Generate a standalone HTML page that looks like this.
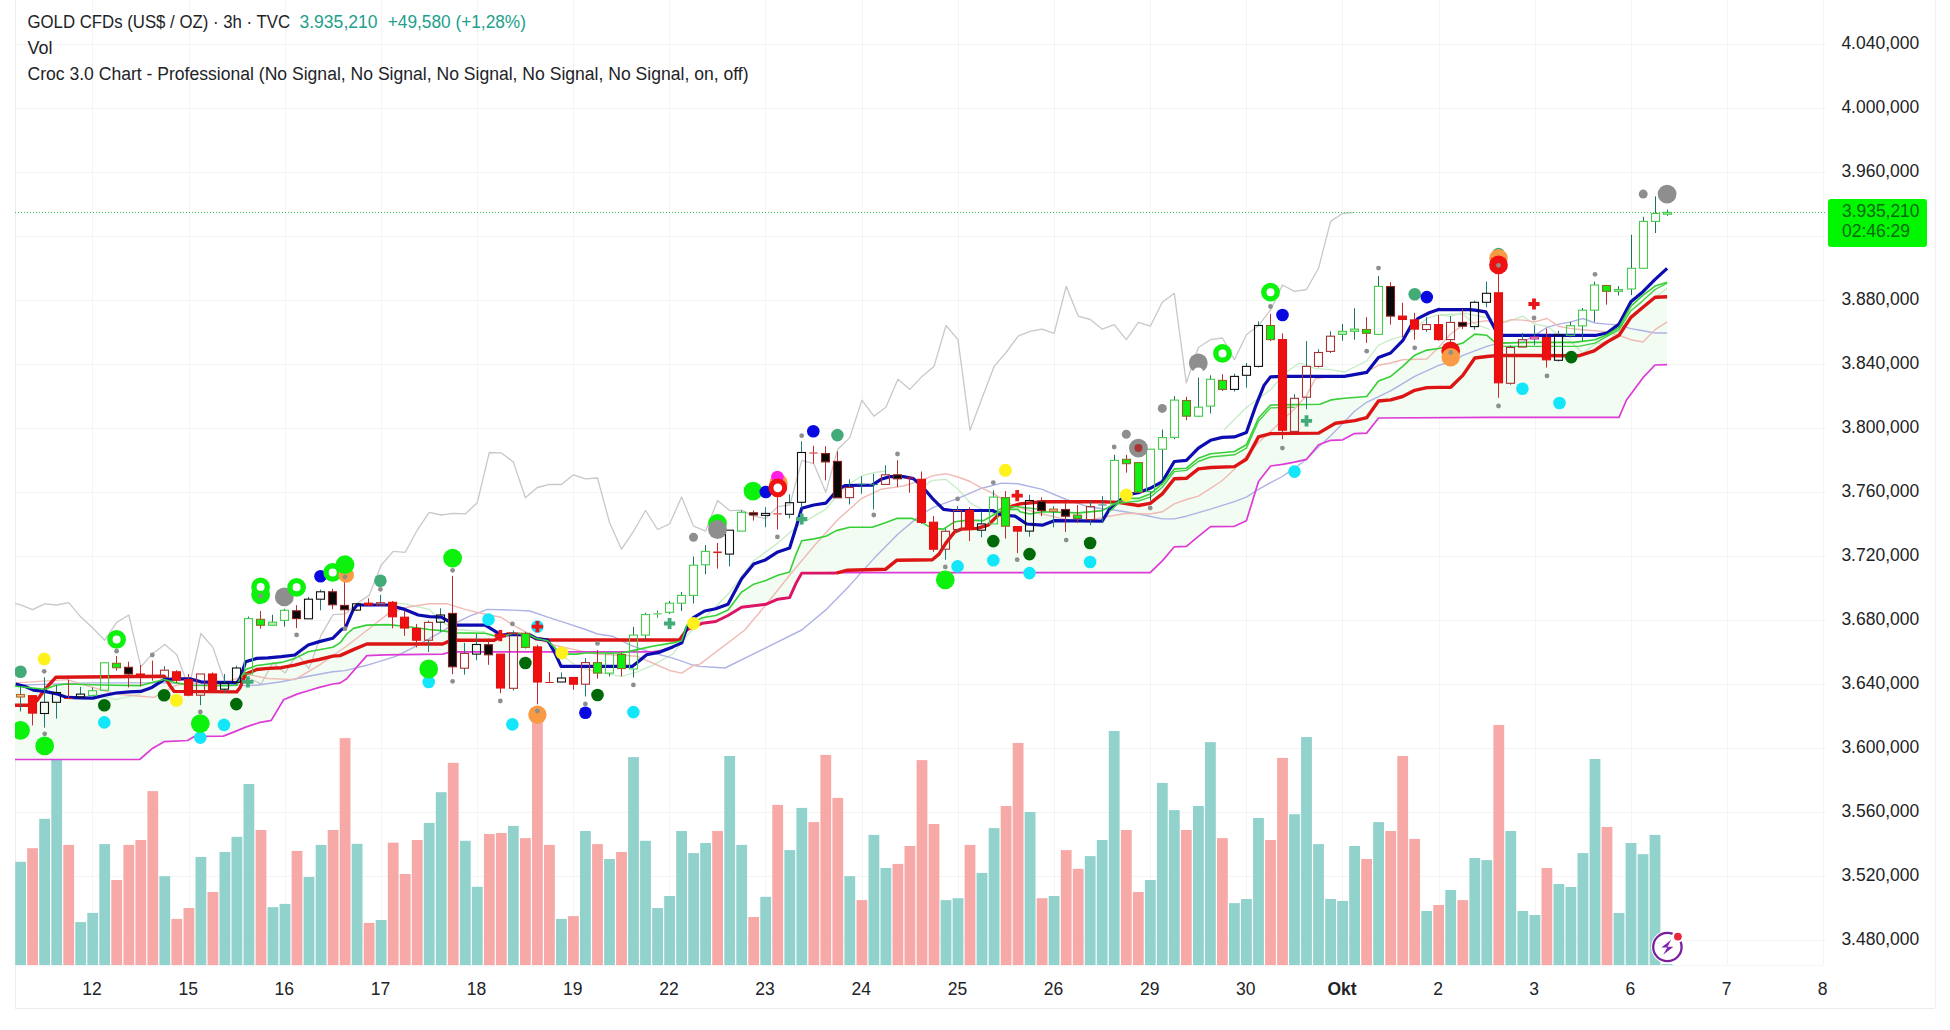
<!DOCTYPE html>
<html><head><meta charset="utf-8"><title>GOLD CFDs</title>
<style>html,body{margin:0;padding:0;background:#fff}body{width:1950px;height:1030px;overflow:hidden}</style></head>
<body>
<svg width="1950" height="1030" viewBox="0 0 1950 1030" style="display:block">
<rect width="1950" height="1030" fill="#fff"/>
<g stroke="#f4f4f5" stroke-width="1" shape-rendering="crispEdges">
<line x1="15" y1="44.5" x2="1826" y2="44.5"/>
<line x1="15" y1="108.5" x2="1826" y2="108.5"/>
<line x1="15" y1="172.5" x2="1826" y2="172.5"/>
<line x1="15" y1="236.5" x2="1826" y2="236.5"/>
<line x1="15" y1="300.5" x2="1826" y2="300.5"/>
<line x1="15" y1="364.5" x2="1826" y2="364.5"/>
<line x1="15" y1="428.5" x2="1826" y2="428.5"/>
<line x1="15" y1="492.5" x2="1826" y2="492.5"/>
<line x1="15" y1="556.5" x2="1826" y2="556.5"/>
<line x1="15" y1="620.5" x2="1826" y2="620.5"/>
<line x1="15" y1="684.5" x2="1826" y2="684.5"/>
<line x1="15" y1="748.5" x2="1826" y2="748.5"/>
<line x1="15" y1="812.5" x2="1826" y2="812.5"/>
<line x1="15" y1="876.5" x2="1826" y2="876.5"/>
<line x1="15" y1="940.5" x2="1826" y2="940.5"/>
<line x1="92.5" y1="0" x2="92.5" y2="965"/>
<line x1="189.5" y1="0" x2="189.5" y2="965"/>
<line x1="285.5" y1="0" x2="285.5" y2="965"/>
<line x1="381.5" y1="0" x2="381.5" y2="965"/>
<line x1="477.5" y1="0" x2="477.5" y2="965"/>
<line x1="573.5" y1="0" x2="573.5" y2="965"/>
<line x1="669.5" y1="0" x2="669.5" y2="965"/>
<line x1="765.5" y1="0" x2="765.5" y2="965"/>
<line x1="862.5" y1="0" x2="862.5" y2="965"/>
<line x1="958.5" y1="0" x2="958.5" y2="965"/>
<line x1="1054.5" y1="0" x2="1054.5" y2="965"/>
<line x1="1150.5" y1="0" x2="1150.5" y2="965"/>
<line x1="1246.5" y1="0" x2="1246.5" y2="965"/>
<line x1="1342.5" y1="0" x2="1342.5" y2="965"/>
<line x1="1439.5" y1="0" x2="1439.5" y2="965"/>
<line x1="1535.5" y1="0" x2="1535.5" y2="965"/>
<line x1="1631.5" y1="0" x2="1631.5" y2="965"/>
<line x1="1727.5" y1="0" x2="1727.5" y2="965"/>
<line x1="1823.5" y1="0" x2="1823.5" y2="965"/>
</g>
<g stroke="#ececee" stroke-width="1" shape-rendering="crispEdges">
<line x1="15.5" y1="0" x2="15.5" y2="1008"/>
<line x1="15" y1="1008.5" x2="1935" y2="1008.5"/>
<line x1="15" y1="965.5" x2="1826" y2="965.5" stroke="#f6f6f7"/>
<line x1="1935.5" y1="0" x2="1935.5" y2="1008" stroke="#f1f1f2"/>
</g>
<defs><clipPath id="pane"><rect x="15" y="0" width="1811" height="965.2"/></clipPath></defs>
<g clip-path="url(#pane)">
<g>
<rect x="15.2" y="861.8" width="10.8" height="103.4" fill="#92d2cc"/>
<rect x="27.2" y="848.2" width="10.8" height="117.0" fill="#f7a9a7"/>
<rect x="39.2" y="818.8" width="10.8" height="146.4" fill="#92d2cc"/>
<rect x="51.3" y="757.1" width="10.8" height="208.1" fill="#92d2cc"/>
<rect x="63.3" y="844.9" width="10.8" height="120.3" fill="#f7a9a7"/>
<rect x="75.3" y="922.1" width="10.8" height="43.1" fill="#92d2cc"/>
<rect x="87.3" y="912.9" width="10.8" height="52.3" fill="#92d2cc"/>
<rect x="99.3" y="844.1" width="10.8" height="121.1" fill="#92d2cc"/>
<rect x="111.3" y="880.0" width="10.8" height="85.2" fill="#f7a9a7"/>
<rect x="123.4" y="844.9" width="10.8" height="120.3" fill="#f7a9a7"/>
<rect x="135.4" y="840.0" width="10.8" height="125.2" fill="#f7a9a7"/>
<rect x="147.4" y="791.1" width="10.8" height="174.1" fill="#f7a9a7"/>
<rect x="159.4" y="876.2" width="10.8" height="89.0" fill="#92d2cc"/>
<rect x="171.4" y="918.9" width="10.8" height="46.3" fill="#f7a9a7"/>
<rect x="183.5" y="908.0" width="10.8" height="57.2" fill="#f7a9a7"/>
<rect x="195.5" y="856.9" width="10.8" height="108.3" fill="#92d2cc"/>
<rect x="207.5" y="892.0" width="10.8" height="73.2" fill="#f7a9a7"/>
<rect x="219.5" y="852.0" width="10.8" height="113.2" fill="#92d2cc"/>
<rect x="231.5" y="836.8" width="10.8" height="128.4" fill="#92d2cc"/>
<rect x="243.5" y="784.0" width="10.8" height="181.2" fill="#92d2cc"/>
<rect x="255.6" y="830.0" width="10.8" height="135.2" fill="#f7a9a7"/>
<rect x="267.6" y="907.2" width="10.8" height="58.0" fill="#92d2cc"/>
<rect x="279.6" y="903.9" width="10.8" height="61.3" fill="#92d2cc"/>
<rect x="291.6" y="850.9" width="10.8" height="114.3" fill="#f7a9a7"/>
<rect x="303.6" y="877.0" width="10.8" height="88.2" fill="#92d2cc"/>
<rect x="315.7" y="844.9" width="10.8" height="120.3" fill="#92d2cc"/>
<rect x="327.7" y="830.0" width="10.8" height="135.2" fill="#f7a9a7"/>
<rect x="339.7" y="738.1" width="10.8" height="227.1" fill="#f7a9a7"/>
<rect x="351.7" y="843.8" width="10.8" height="121.4" fill="#92d2cc"/>
<rect x="363.7" y="922.9" width="10.8" height="42.3" fill="#f7a9a7"/>
<rect x="375.7" y="920.0" width="10.8" height="45.2" fill="#92d2cc"/>
<rect x="387.8" y="842.7" width="10.8" height="122.5" fill="#f7a9a7"/>
<rect x="399.8" y="874.0" width="10.8" height="91.2" fill="#f7a9a7"/>
<rect x="411.8" y="840.0" width="10.8" height="125.2" fill="#f7a9a7"/>
<rect x="423.8" y="822.9" width="10.8" height="142.3" fill="#92d2cc"/>
<rect x="435.8" y="792.2" width="10.8" height="173.0" fill="#92d2cc"/>
<rect x="447.8" y="762.8" width="10.8" height="202.4" fill="#f7a9a7"/>
<rect x="459.9" y="840.8" width="10.8" height="124.4" fill="#92d2cc"/>
<rect x="471.9" y="886.8" width="10.8" height="78.4" fill="#92d2cc"/>
<rect x="483.9" y="834.0" width="10.8" height="131.2" fill="#f7a9a7"/>
<rect x="495.9" y="833.0" width="10.8" height="132.2" fill="#f7a9a7"/>
<rect x="507.9" y="825.9" width="10.8" height="139.3" fill="#92d2cc"/>
<rect x="520.0" y="838.1" width="10.8" height="127.1" fill="#f7a9a7"/>
<rect x="532.0" y="718.0" width="10.8" height="247.2" fill="#f7a9a7"/>
<rect x="544.0" y="844.9" width="10.8" height="120.3" fill="#f7a9a7"/>
<rect x="556.0" y="918.9" width="10.8" height="46.3" fill="#92d2cc"/>
<rect x="568.0" y="916.1" width="10.8" height="49.1" fill="#f7a9a7"/>
<rect x="580.0" y="831.0" width="10.8" height="134.2" fill="#92d2cc"/>
<rect x="592.1" y="844.1" width="10.8" height="121.1" fill="#f7a9a7"/>
<rect x="604.1" y="859.0" width="10.8" height="106.2" fill="#92d2cc"/>
<rect x="616.1" y="852.0" width="10.8" height="113.2" fill="#f7a9a7"/>
<rect x="628.1" y="757.1" width="10.8" height="208.1" fill="#92d2cc"/>
<rect x="640.1" y="840.8" width="10.8" height="124.4" fill="#92d2cc"/>
<rect x="652.2" y="908.0" width="10.8" height="57.2" fill="#92d2cc"/>
<rect x="664.2" y="896.0" width="10.8" height="69.2" fill="#92d2cc"/>
<rect x="676.2" y="831.0" width="10.8" height="134.2" fill="#92d2cc"/>
<rect x="688.2" y="853.1" width="10.8" height="112.1" fill="#92d2cc"/>
<rect x="700.2" y="843.0" width="10.8" height="122.2" fill="#92d2cc"/>
<rect x="712.2" y="831.0" width="10.8" height="134.2" fill="#f7a9a7"/>
<rect x="724.3" y="756.0" width="10.8" height="209.2" fill="#92d2cc"/>
<rect x="736.3" y="844.9" width="10.8" height="120.3" fill="#92d2cc"/>
<rect x="748.3" y="917.0" width="10.8" height="48.2" fill="#f7a9a7"/>
<rect x="760.3" y="896.8" width="10.8" height="68.4" fill="#92d2cc"/>
<rect x="772.3" y="804.9" width="10.8" height="160.3" fill="#f7a9a7"/>
<rect x="784.4" y="850.1" width="10.8" height="115.1" fill="#92d2cc"/>
<rect x="796.4" y="807.9" width="10.8" height="157.3" fill="#92d2cc"/>
<rect x="808.4" y="822.1" width="10.8" height="143.1" fill="#f7a9a7"/>
<rect x="820.4" y="754.9" width="10.8" height="210.3" fill="#f7a9a7"/>
<rect x="832.4" y="797.9" width="10.8" height="167.3" fill="#f7a9a7"/>
<rect x="844.4" y="876.2" width="10.8" height="89.0" fill="#92d2cc"/>
<rect x="856.5" y="900.1" width="10.8" height="65.1" fill="#f7a9a7"/>
<rect x="868.5" y="834.9" width="10.8" height="130.3" fill="#92d2cc"/>
<rect x="880.5" y="868.0" width="10.8" height="97.2" fill="#92d2cc"/>
<rect x="892.5" y="863.9" width="10.8" height="101.3" fill="#f7a9a7"/>
<rect x="904.5" y="846.0" width="10.8" height="119.2" fill="#f7a9a7"/>
<rect x="916.6" y="760.1" width="10.8" height="205.1" fill="#f7a9a7"/>
<rect x="928.6" y="824.0" width="10.8" height="141.2" fill="#f7a9a7"/>
<rect x="940.6" y="900.1" width="10.8" height="65.1" fill="#92d2cc"/>
<rect x="952.6" y="898.2" width="10.8" height="67.0" fill="#92d2cc"/>
<rect x="964.6" y="844.9" width="10.8" height="120.3" fill="#f7a9a7"/>
<rect x="976.6" y="872.9" width="10.8" height="92.3" fill="#92d2cc"/>
<rect x="988.7" y="828.1" width="10.8" height="137.1" fill="#92d2cc"/>
<rect x="1000.7" y="806.0" width="10.8" height="159.2" fill="#f7a9a7"/>
<rect x="1012.7" y="743.0" width="10.8" height="222.2" fill="#f7a9a7"/>
<rect x="1024.7" y="812.0" width="10.8" height="153.2" fill="#92d2cc"/>
<rect x="1036.7" y="898.2" width="10.8" height="67.0" fill="#f7a9a7"/>
<rect x="1048.7" y="896.0" width="10.8" height="69.2" fill="#92d2cc"/>
<rect x="1060.8" y="850.1" width="10.8" height="115.1" fill="#f7a9a7"/>
<rect x="1072.8" y="868.8" width="10.8" height="96.4" fill="#f7a9a7"/>
<rect x="1084.8" y="856.1" width="10.8" height="109.1" fill="#92d2cc"/>
<rect x="1096.8" y="840.0" width="10.8" height="125.2" fill="#92d2cc"/>
<rect x="1108.8" y="731.0" width="10.8" height="234.2" fill="#92d2cc"/>
<rect x="1120.9" y="830.0" width="10.8" height="135.2" fill="#f7a9a7"/>
<rect x="1132.9" y="892.0" width="10.8" height="73.2" fill="#f7a9a7"/>
<rect x="1144.9" y="880.0" width="10.8" height="85.2" fill="#92d2cc"/>
<rect x="1156.9" y="782.9" width="10.8" height="182.3" fill="#92d2cc"/>
<rect x="1168.9" y="810.1" width="10.8" height="155.1" fill="#92d2cc"/>
<rect x="1180.9" y="830.0" width="10.8" height="135.2" fill="#f7a9a7"/>
<rect x="1193.0" y="806.0" width="10.8" height="159.2" fill="#92d2cc"/>
<rect x="1205.0" y="742.1" width="10.8" height="223.1" fill="#92d2cc"/>
<rect x="1217.0" y="838.1" width="10.8" height="127.1" fill="#f7a9a7"/>
<rect x="1229.0" y="903.1" width="10.8" height="62.1" fill="#92d2cc"/>
<rect x="1241.0" y="899.0" width="10.8" height="66.2" fill="#92d2cc"/>
<rect x="1253.1" y="818.0" width="10.8" height="147.2" fill="#92d2cc"/>
<rect x="1265.1" y="840.0" width="10.8" height="125.2" fill="#f7a9a7"/>
<rect x="1277.1" y="757.9" width="10.8" height="207.3" fill="#f7a9a7"/>
<rect x="1289.1" y="814.2" width="10.8" height="151.0" fill="#92d2cc"/>
<rect x="1301.1" y="737.0" width="10.8" height="228.2" fill="#92d2cc"/>
<rect x="1313.1" y="844.1" width="10.8" height="121.1" fill="#92d2cc"/>
<rect x="1325.2" y="899.0" width="10.8" height="66.2" fill="#92d2cc"/>
<rect x="1337.2" y="900.9" width="10.8" height="64.3" fill="#92d2cc"/>
<rect x="1349.2" y="846.0" width="10.8" height="119.2" fill="#92d2cc"/>
<rect x="1361.2" y="859.0" width="10.8" height="106.2" fill="#f7a9a7"/>
<rect x="1373.2" y="822.1" width="10.8" height="143.1" fill="#92d2cc"/>
<rect x="1385.3" y="831.0" width="10.8" height="134.2" fill="#f7a9a7"/>
<rect x="1397.3" y="756.0" width="10.8" height="209.2" fill="#f7a9a7"/>
<rect x="1409.3" y="838.9" width="10.8" height="126.3" fill="#f7a9a7"/>
<rect x="1421.3" y="911.0" width="10.8" height="54.2" fill="#92d2cc"/>
<rect x="1433.3" y="905.0" width="10.8" height="60.2" fill="#f7a9a7"/>
<rect x="1445.3" y="890.0" width="10.8" height="75.2" fill="#92d2cc"/>
<rect x="1457.4" y="900.1" width="10.8" height="65.1" fill="#f7a9a7"/>
<rect x="1469.4" y="858.0" width="10.8" height="107.2" fill="#92d2cc"/>
<rect x="1481.4" y="860.1" width="10.8" height="105.1" fill="#92d2cc"/>
<rect x="1493.4" y="725.0" width="10.8" height="240.2" fill="#f7a9a7"/>
<rect x="1505.4" y="831.0" width="10.8" height="134.2" fill="#92d2cc"/>
<rect x="1517.4" y="911.0" width="10.8" height="54.2" fill="#92d2cc"/>
<rect x="1529.5" y="915.0" width="10.8" height="50.2" fill="#92d2cc"/>
<rect x="1541.5" y="868.0" width="10.8" height="97.2" fill="#f7a9a7"/>
<rect x="1553.5" y="884.0" width="10.8" height="81.2" fill="#92d2cc"/>
<rect x="1565.5" y="887.0" width="10.8" height="78.2" fill="#92d2cc"/>
<rect x="1577.5" y="853.1" width="10.8" height="112.1" fill="#92d2cc"/>
<rect x="1589.6" y="759.0" width="10.8" height="206.2" fill="#92d2cc"/>
<rect x="1601.6" y="827.0" width="10.8" height="138.2" fill="#f7a9a7"/>
<rect x="1613.6" y="912.9" width="10.8" height="52.3" fill="#92d2cc"/>
<rect x="1625.6" y="843.0" width="10.8" height="122.2" fill="#92d2cc"/>
<rect x="1637.6" y="854.2" width="10.8" height="111.0" fill="#92d2cc"/>
<rect x="1649.6" y="834.9" width="10.8" height="130.3" fill="#92d2cc"/>
<rect x="1661.7" y="964.0" width="10.8" height="1.2" fill="#92d2cc"/>
</g>
<path d="M15.0 684.0 L15.6 686.3 L44.7 689.2 L55.8 685.2 L67.0 684.0 L92.7 684.7 L116.1 685.2 L140.7 685.6 L164.1 679.6 L176.4 682.9 L189.8 685.2 L223.3 685.6 L236.7 685.2 L245.6 669.5 L256.8 665.5 L281.4 662.4 L294.8 658.4 L308.2 651.7 L332.7 647.2 L340.0 642.9 L346.7 634.0 L353.4 628.4 L366.8 625.1 L388.0 624.6 L404.8 626.2 L429.3 629.5 L441.2 630.6 L456.1 632.9 L485.2 633.3 L496.3 636.2 L505.3 635.8 L512.0 633.5 L518.7 633.5 L529.8 635.1 L536.5 638.5 L547.7 640.7 L554.4 647.4 L561.1 654.1 L576.7 654.1 L585.6 653.0 L621.6 653.0 L637.0 649.6 L652.6 646.3 L672.7 642.9 L681.7 640.7 L686.7 625.5 L702.3 617.7 L715.7 615.5 L728.0 609.9 L741.6 592.1 L753.7 584.2 L765.8 580.4 L777.8 575.3 L789.6 572.0 L796.1 554.1 L801.7 540.7 L813.8 538.9 L825.8 536.2 L836.3 530.6 L849.7 527.3 L872.1 527.3 L885.4 522.8 L896.6 518.4 L912.2 518.4 L921.8 522.4 L932.3 528.4 L943.5 529.1 L954.7 521.7 L968.1 520.1 L983.7 520.6 L997.1 512.8 L1006.0 509.4 L1018.1 509.4 L1020.0 511.8 L1030.0 514.0 L1042.3 511.8 L1078.3 512.9 L1102.2 510.6 L1118.3 501.7 L1126.3 498.4 L1138.4 498.4 L1150.2 493.9 L1162.3 483.8 L1174.3 468.9 L1186.4 468.2 L1198.4 458.2 L1210.5 453.7 L1234.4 451.5 L1246.4 444.8 L1258.5 418.0 L1270.6 405.0 L1294.5 404.6 L1319.8 404.3 L1331.0 399.9 L1344.4 398.3 L1366.7 396.5 L1378.5 380.9 L1390.6 376.4 L1402.7 366.4 L1414.7 355.2 L1426.8 350.1 L1438.6 348.5 L1450.7 345.2 L1450.7 346.4 L1462.8 343.1 L1474.8 334.1 L1486.9 335.3 L1494.7 342.0 L1500.3 343.1 L1529.3 342.4 L1574.0 342.4 L1595.0 339.7 L1607.0 334.8 L1619.1 327.4 L1630.9 306.2 L1643.0 295.1 L1655.1 286.1 L1667.1 282.3 L1667.0 364.7 L1655.0 365.0 L1643.0 377.7 L1626.5 400.0 L1619.0 417.3 L1490.0 417.3 L1378.6 418.0 L1366.6 433.1 L1354.5 433.6 L1342.7 439.8 L1330.6 440.3 L1318.6 444.8 L1306.5 459.3 L1294.5 462.2 L1282.4 464.4 L1270.6 466.0 L1258.5 481.6 L1246.4 520.7 L1234.4 526.3 L1210.5 526.7 L1198.4 536.3 L1186.4 546.4 L1174.3 546.8 L1162.3 560.9 L1150.2 572.7 L1040.0 572.6 L836.3 572.6 L801.7 573.1 L796.1 583.1 L789.6 597.6 L777.8 599.2 L765.8 604.3 L741.6 607.2 L728.0 615.5 L715.7 621.5 L702.3 623.3 L686.7 630.0 L681.7 643.6 L672.7 646.7 L661.6 650.3 L652.6 651.9 L456.1 651.9 L449.4 652.3 L442.7 654.1 L384.7 654.8 L366.8 655.6 L346.7 678.7 L340.0 683.1 L332.7 684.0 L319.3 687.4 L308.2 690.7 L297.0 694.1 L283.6 699.7 L271.3 720.4 L259.0 722.7 L245.6 727.1 L236.7 730.9 L223.3 736.1 L194.3 736.5 L187.6 740.5 L164.1 741.7 L151.9 748.8 L139.6 759.5 L15.6 759.5 L15.0 759.5Z" fill="#f2fcf2" stroke="none"/>
<path d="M92.7 694.1 L116.1 699.7 L129.5 696.3 L140.7 694.1" fill="none" stroke="#c6ecc6" stroke-width="1.3"/>
<path d="M388.0 602.7 L404.8 603.8 L429.3 609.4 L441.2 621.7 L456.1 629.5 L485.2 631.8" fill="none" stroke="#c6ecc6" stroke-width="1.3"/>
<path d="M563.3 656.3 L576.7 666.4 L597.5 672.0 L621.6 676.4 L637.0 672.0 L652.6 665.3 L672.7 654.1 L688.4 634.0 L728.0 594.3 L753.7 560.8 L777.8 542.9 L796.1 527.3 L813.8 516.1 L825.8 509.4 L836.3 496.0 L849.7 483.7 L861.8 475.9 L873.8 472.6 L885.4 471.0" fill="none" stroke="#c6ecc6" stroke-width="1.3"/>
<path d="M921.8 487.1 L932.3 480.4 L946.0 479.3 L958.0 489.3 L970.1 502.7 L981.9 509.4 L994.0 513.9" fill="none" stroke="#c6ecc6" stroke-width="1.3"/>
<path d="M1223.8 430.0 L1246.1 407.7 L1270.5 389.8 L1286.3 372.0 L1299.7 363.0 L1315.4 368.6 L1331.0 369.7 L1344.4 372.0 L1366.7 360.8 L1378.5 345.2 L1390.6 339.6 L1402.7 336.2 L1414.7 329.5 L1426.8 318.4 L1438.6 315.0 L1462.7 313.9 L1474.8 323.9 L1490.0 329.5" fill="none" stroke="#c6ecc6" stroke-width="1.3"/>
<path d="M1440.0 315.2 L1450.7 316.3 L1462.8 312.9 L1507.0 321.9 L1522.8 316.3 L1534.9 324.1 L1547.0 326.3 L1558.8 335.3 L1570.9 342.0 L1582.9 353.1 L1595.0 344.2 L1607.0 342.0 L1619.1 330.8 L1630.9 317.4 L1643.0 306.2 L1655.1 297.3 L1667.1 288.4" fill="none" stroke="#c6ecc6" stroke-width="1.3"/>
<path d="M15.0 603.3 L20.6 604.8 L32.6 609.7 L44.6 603.8 L56.7 605.0 L68.7 602.7 L80.7 616.8 L92.7 628.0 L104.7 640.2 L116.7 622.4 L128.8 615.0 L140.8 666.8 L152.8 653.4 L164.8 644.5 L176.8 654.8 L188.9 688.0 L200.9 633.5 L212.9 647.4 L224.9 682.0 L236.9 682.5 L248.9 678.0 L261.0 684.2 L273.0 662.6 L285.0 673.1 L297.0 653.6 L309.0 668.6 L321.1 635.1 L333.1 614.6 L345.1 613.9 L357.1 603.2 L369.1 595.4 L381.1 565.2 L393.2 551.4 L405.2 552.3 L417.2 530.2 L429.2 512.3 L441.2 515.0 L453.2 513.4 L465.3 513.9 L477.3 502.7 L489.3 452.5 L501.3 452.9 L513.3 461.9 L525.4 497.8 L537.4 487.5 L549.4 484.3 L561.4 484.5 L573.4 474.8 L585.4 478.8 L597.5 478.0 L609.5 522.4 L621.5 549.2 L633.5 531.3 L645.5 510.5 L657.6 529.5 L669.6 523.9 L681.6 497.1 L693.6 526.2 L705.6 531.1 L717.6 500.5 L729.7 510.6 L741.7 510.2 L753.7 516.2 L765.7 518.5 L777.7 506.6 L789.8 505.0 L801.8 460.4 L813.8 463.7 L825.8 492.3 L837.8 449.2 L849.8 437.6 L861.9 400.1 L873.9 416.2 L885.9 407.2 L897.9 379.3 L909.9 389.4 L922.0 376.4 L934.0 366.4 L946.0 325.5 L958.0 339.6 L970.0 430.2 L982.0 398.3 L994.1 366.4 L1006.1 352.5 L1018.1 336.2 L1030.1 331.3 L1042.1 329.1 L1054.1 333.3 L1066.2 286.4 L1078.2 316.1 L1090.2 319.5 L1102.2 329.1 L1114.2 324.6 L1126.3 339.6 L1138.3 322.4 L1150.3 326.2 L1162.3 302.3 L1174.3 293.3 L1186.3 382.8 L1198.4 347.5 L1210.4 339.7 L1222.4 338.0 L1234.4 359.8 L1246.4 334.8 L1258.5 325.7 L1270.5 310.2 L1282.5 285.0 L1294.5 291.3 L1306.5 289.5 L1318.5 268.3 L1330.6 221.4 L1342.6 213.5 L1354.6 212.4" fill="none" stroke="#c8c8c8" stroke-width="1.3" stroke-linejoin="round"/>
<path d="M15.6 685.2 L89.3 682.9 L164.1 682.9 L245.6 685.6 L256.8 685.2 L281.4 681.8 L308.2 676.2 L332.7 671.8 L345.0 670.6 L366.8 665.3 L395.8 656.3 L413.7 647.4 L441.2 631.8 L456.1 622.8 L469.5 616.1 L487.4 609.4 L513.3 610.1 L529.8 611.0 L547.7 617.2 L565.5 622.8 L585.6 629.5 L597.5 634.0 L612.4 636.2 L630.3 645.2 L652.6 653.0 L670.5 657.4 L683.9 661.9 L693.5 665.3 L700.0 666.4 L725.0 668.0 L801.7 630.0 L825.8 609.9 L849.7 585.4 L873.8 558.6 L898.0 534.0 L921.8 513.9 L933.9 507.2 L958.0 498.3 L981.9 488.2 L1001.6 483.1 L1018.1 483.7 L1020.0 484.3 L1042.3 489.4 L1066.2 499.5 L1090.1 507.3 L1114.2 510.0 L1138.4 514.0 L1162.3 518.9 L1174.3 518.9 L1186.4 516.2 L1210.5 509.1 L1234.4 501.7 L1246.4 497.2 L1258.5 489.4 L1270.6 482.7 L1282.4 476.5 L1294.5 468.2 L1306.5 459.3 L1318.6 447.0 L1330.6 435.8 L1342.7 423.5 L1354.5 411.3 L1366.6 402.3 L1390.6 390.9 L1414.7 376.4 L1438.6 365.3 L1450.7 362.1 L1462.8 355.4 L1474.8 350.9 L1486.9 346.4 L1498.7 343.1 L1522.8 342.0 L1534.9 335.3 L1547.0 327.4 L1558.8 324.1 L1570.9 321.9 L1582.9 318.5 L1595.0 323.0 L1607.0 324.1 L1619.1 325.2 L1630.9 328.6 L1643.0 330.8 L1655.1 333.0 L1667.1 333.0" fill="none" stroke="#aeb2e4" stroke-width="1.4" stroke-linejoin="round"/>
<path d="M15.6 682.9 L67.0 679.6 L92.7 687.4 L116.1 694.1 L140.7 696.3 L154.1 697.4 L164.1 691.9 L176.4 685.2 L189.8 682.9 L223.3 682.9 L236.7 678.5 L245.6 674.0 L268.0 678.5 L294.8 679.6 L319.3 665.1 L345.0 647.2 L362.3 634.0 L388.0 613.9 L407.0 607.2 L429.3 603.8 L447.2 603.8 L465.1 609.4 L478.5 612.8 L500.8 617.2 L513.3 625.1 L525.4 631.8 L537.4 639.6 L554.4 645.2 L574.5 649.6 L596.8 654.1 L621.4 655.2 L637.0 656.3 L652.6 663.0 L670.5 670.8 L681.7 673.1 L693.5 665.3 L700.0 664.1 L744.8 630.0 L765.8 605.0 L789.6 575.3 L813.8 546.3 L837.9 519.5 L861.8 498.3 L881.0 489.3 L903.3 486.0 L921.8 480.4 L932.3 475.9 L946.0 473.7 L958.0 477.0 L970.1 481.5 L981.9 488.2 L994.0 493.8 L1006.0 501.6 L1018.1 507.2 L1020.0 507.7 L1042.3 514.0 L1066.2 519.6 L1087.0 520.7 L1109.3 516.2 L1126.3 513.3 L1150.2 514.0 L1162.3 511.8 L1174.3 503.9 L1186.4 499.5 L1198.4 496.1 L1210.5 488.3 L1222.3 480.5 L1234.4 469.3 L1246.4 455.9 L1258.5 442.5 L1270.6 431.4 L1282.4 420.2 L1294.5 409.0 L1306.5 395.6 L1315.4 378.7 L1331.0 376.4 L1344.4 376.4 L1366.7 372.0 L1378.5 365.3 L1390.6 363.0 L1402.7 359.7 L1426.8 359.0 L1438.6 347.4 L1450.7 334.0 L1462.7 325.1 L1474.8 322.4 L1486.9 320.7 L1498.7 324.1 L1510.8 319.6 L1522.8 320.1 L1534.9 321.9 L1547.0 318.5 L1558.8 326.3 L1570.9 328.6 L1582.9 329.7 L1595.0 330.8 L1607.0 331.9 L1619.1 335.3 L1630.9 339.7 L1643.0 342.0 L1655.1 329.7 L1667.1 321.9" fill="none" stroke="#f0bab5" stroke-width="1.4" stroke-linejoin="round"/>
<path d="M15.0 759.5 L15.6 759.5 L139.6 759.5 L151.9 748.8 L164.1 741.7 L187.6 740.5 L194.3 736.5 L223.3 736.1 L236.7 730.9 L245.6 727.1 L259.0 722.7 L271.3 720.4 L283.6 699.7 L297.0 694.1 L308.2 690.7 L319.3 687.4 L332.7 684.0 L340.0 683.1 L346.7 678.7 L366.8 655.6 L384.7 654.8 L442.7 654.1 L449.4 652.3 L456.1 651.9 L652.6 651.9 L661.6 650.3 L672.7 646.7 L681.7 643.6 L686.7 630.0 L702.3 623.3 L715.7 621.5 L728.0 615.5 L741.6 607.2 L765.8 604.3 L777.8 599.2 L789.6 597.6 L796.1 583.1 L801.7 573.1 L836.3 572.6 L1040.0 572.6 L1150.2 572.7 L1162.3 560.9 L1174.3 546.8 L1186.4 546.4 L1198.4 536.3 L1210.5 526.7 L1234.4 526.3 L1246.4 520.7 L1258.5 481.6 L1270.6 466.0 L1282.4 464.4 L1294.5 462.2 L1306.5 459.3 L1318.6 444.8 L1330.6 440.3 L1342.7 439.8 L1354.5 433.6 L1366.6 433.1 L1378.6 418.0 L1490.0 417.3 L1619.0 417.3 L1626.5 400.0 L1643.0 377.7 L1655.0 365.0 L1667.0 364.7" fill="none" stroke="#dd3ad8" stroke-width="1.7" stroke-linejoin="round"/>
<path d="M15.0 705.3 L15.6 705.3 L29.0 705.3 L36.8 700.8 L44.7 689.6 L55.8 677.3 L164.1 676.2 L169.7 685.2 L174.2 691.4 L236.7 691.9 L240.1 687.4 L245.6 674.0 L256.8 669.5 L268.0 668.4 L281.4 667.7 L294.8 665.1 L308.2 661.7 L319.3 659.5 L332.7 656.1 L340.0 655.6 L353.4 649.6 L366.8 644.0 L442.7 644.0 L449.4 641.1 L456.1 640.2 L494.1 640.2 L500.8 636.7 L507.5 634.0 L514.2 634.0 L529.8 635.1 L536.5 638.9 L547.7 640.0 L679.4 640.0 L686.7 630.0 M836.3 573.1 L847.5 570.2 L885.4 569.3 L896.6 560.3 L932.3 559.7 L939.0 554.1 L946.0 542.9 L954.7 531.8 L961.4 529.1 L977.0 528.4 L988.2 525.1 L997.1 516.1 L1006.0 508.3 L1018.1 504.3 L1020.0 503.9 L1042.3 501.7 L1102.2 501.7 L1118.3 502.4 L1138.4 505.5 L1150.2 503.3 L1162.3 493.9 L1174.3 478.7 L1186.4 478.3 L1198.4 468.9 L1210.5 467.5 L1234.4 466.6 L1246.4 459.3 L1258.5 436.9 L1270.6 433.6 L1318.6 433.1 L1335.4 423.3 L1354.7 420.6 L1366.7 417.7 L1378.5 401.0 L1390.6 399.9 L1402.7 396.5 L1414.7 390.3 L1426.8 387.6 L1450.7 387.1 L1450.7 387.3 L1462.8 375.4 L1474.8 358.0 L1486.9 356.5 L1498.7 355.4 L1578.5 355.8 L1594.1 350.9 L1607.0 342.0 L1619.1 335.3 L1630.9 317.4 L1643.0 307.3 L1655.1 297.3 L1667.1 296.8" fill="none" stroke="#dc1414" stroke-width="3.4" stroke-linejoin="round"/>
<path d="M686.7 630.0 L702.3 623.3 L715.7 621.5 L728.0 615.5 L741.6 607.2 L765.8 604.3 L777.8 599.2 L789.6 597.6 L796.1 583.1 L801.7 573.1 L836.3 573.1" fill="none" stroke="#dc1464" stroke-width="2.9" stroke-linejoin="round"/>
<path d="M15.6 684.0 L24.6 686.3 L33.5 690.1 L44.7 691.4 L55.8 693.6 L67.0 697.4 L80.4 697.9 L92.7 698.1 L105.0 695.2 L116.1 693.0 L129.5 691.9 L140.7 691.4 L151.9 687.4 L164.1 679.6 L176.4 678.9 L189.8 678.9 L201.0 681.8 L214.4 682.3 L225.5 682.3 L236.7 682.9 L240.1 678.5 L245.6 661.7 L256.8 658.4 L268.0 657.9 L281.4 656.6 L294.8 655.0 L308.2 645.0 L319.3 641.6 L332.7 638.3 L341.7 629.3 L345.1 628.4 L353.4 609.4 L357.2 605.0 L388.0 605.0 L404.8 609.4 L418.2 615.0 L429.3 616.6 L441.2 617.2 L449.4 621.7 L456.1 625.1 L485.2 625.1 L494.1 630.6 L500.8 635.1 L512.0 634.4 L529.8 635.1 L536.5 638.5 L547.7 640.2 L554.4 651.9 L561.1 666.4 L632.1 666.4 L638.8 661.2 L646.6 654.8 L660.0 652.1 L672.7 646.9 L681.7 642.9 L686.7 627.8 L693.4 617.7 L704.6 611.0 L715.7 608.8 L728.0 604.3 L741.6 578.7 L753.7 564.1 L765.8 559.7 L777.8 551.9 L789.6 548.1 L796.1 527.3 L801.7 508.3 L813.8 505.0 L825.8 503.2 L834.1 493.8 L837.9 489.3 L845.3 485.5 L872.1 485.1 L881.0 479.3 L889.9 476.6 L903.3 476.6 L913.4 478.6 L921.8 486.0 L932.3 498.3 L943.5 509.4 L952.4 510.5 L992.6 510.5 L1001.6 515.0 L1015.0 516.1 L1021.7 520.6 L1026.7 524.0 L1042.3 525.2 L1054.2 520.7 L1102.2 521.1 L1109.3 509.5 L1118.3 501.7 L1126.3 495.0 L1138.4 492.8 L1150.2 488.3 L1162.3 481.6 L1174.3 461.5 L1186.4 460.4 L1198.4 448.1 L1210.5 440.3 L1222.3 437.4 L1234.4 436.9 L1246.4 432.5 L1255.1 407.7 L1264.0 385.4 L1270.5 376.9 L1282.5 376.4 L1344.4 376.4 L1366.7 372.4 L1378.5 357.4 L1390.6 353.0 L1402.7 340.7 L1411.4 325.1 L1418.1 318.4 L1429.2 312.8 L1438.6 309.4 L1440.0 309.6 L1469.0 309.6 L1474.8 310.2 L1485.8 311.8 L1494.7 328.6 L1500.3 335.3 L1596.3 335.3 L1607.0 333.0 L1619.1 324.1 L1630.9 301.8 L1643.0 291.7 L1655.1 279.4 L1667.1 268.3" fill="none" stroke="#0c0cb0" stroke-width="3.2" stroke-linejoin="round"/>
<path d="M1109.3 511.8 L1118.3 503.3 L1138.4 501.0 L1150.2 497.2 L1162.3 487.2 L1174.3 471.6 L1186.4 470.4 L1198.4 461.5 L1210.5 457.0 L1234.4 454.8 L1246.4 448.1 L1258.5 421.3 L1270.6 407.9 L1294.5 407.2" fill="none" stroke="#44d044" stroke-width="1.4" stroke-linejoin="round"/>
<path d="M1494.7 343.1 L1500.3 346.4 L1529.3 346.4 L1578.5 346.4 L1595.0 343.1 L1607.0 336.4 L1619.1 329.7 L1630.9 310.7 L1643.0 300.6 L1655.1 289.5 L1667.1 283.2" fill="none" stroke="#44d044" stroke-width="1.4" stroke-linejoin="round"/>
<path d="M997.1 510.5 L1006.0 506.7 L1018.1 506.7 L1030.2 508.3 L1040.0 509.4" fill="none" stroke="#44d044" stroke-width="1.4" stroke-linejoin="round"/>
<path d="M15.0 684.0 L15.6 686.3 L44.7 689.2 L55.8 685.2 L67.0 684.0 L92.7 684.7 L116.1 685.2 L140.7 685.6 L164.1 679.6 L176.4 682.9 L189.8 685.2 L223.3 685.6 L236.7 685.2 L245.6 669.5 L256.8 665.5 L281.4 662.4 L294.8 658.4 L308.2 651.7 L332.7 647.2 L340.0 642.9 L346.7 634.0 L353.4 628.4 L366.8 625.1 L388.0 624.6 L404.8 626.2 L429.3 629.5 L441.2 630.6 L456.1 632.9 L485.2 633.3 L496.3 636.2 L505.3 635.8 L512.0 633.5 L518.7 633.5 L529.8 635.1 L536.5 638.5 L547.7 640.7 L554.4 647.4 L561.1 654.1 L576.7 654.1 L585.6 653.0 L621.6 653.0 L637.0 649.6 L652.6 646.3 L672.7 642.9 L681.7 640.7 L686.7 625.5 L702.3 617.7 L715.7 615.5 L728.0 609.9 L741.6 592.1 L753.7 584.2 L765.8 580.4 L777.8 575.3 L789.6 572.0 L796.1 554.1 L801.7 540.7 L813.8 538.9 L825.8 536.2 L836.3 530.6 L849.7 527.3 L872.1 527.3 L885.4 522.8 L896.6 518.4 L912.2 518.4 L921.8 522.4 L932.3 528.4 L943.5 529.1 L954.7 521.7 L968.1 520.1 L983.7 520.6 L997.1 512.8 L1006.0 509.4 L1018.1 509.4 L1020.0 511.8 L1030.0 514.0 L1042.3 511.8 L1078.3 512.9 L1102.2 510.6 L1118.3 501.7 L1126.3 498.4 L1138.4 498.4 L1150.2 493.9 L1162.3 483.8 L1174.3 468.9 L1186.4 468.2 L1198.4 458.2 L1210.5 453.7 L1234.4 451.5 L1246.4 444.8 L1258.5 418.0 L1270.6 405.0 L1294.5 404.6 L1319.8 404.3 L1331.0 399.9 L1344.4 398.3 L1366.7 396.5 L1378.5 380.9 L1390.6 376.4 L1402.7 366.4 L1414.7 355.2 L1426.8 350.1 L1438.6 348.5 L1450.7 345.2 L1450.7 346.4 L1462.8 343.1 L1474.8 334.1 L1486.9 335.3 L1494.7 342.0 L1500.3 343.1 L1529.3 342.4 L1574.0 342.4 L1595.0 339.7 L1607.0 334.8 L1619.1 327.4 L1630.9 306.2 L1643.0 295.1 L1655.1 286.1 L1667.1 282.3" fill="none" stroke="#36cf36" stroke-width="1.6" stroke-linejoin="round"/>
<line x1="15" y1="212.5" x2="1828" y2="212.5" stroke="#3fc845" stroke-width="1" stroke-dasharray="1 2"/>
<g>
<line x1="20.5" y1="686.3" x2="20.5" y2="694.5" stroke="#1c7b78" stroke-width="1"/>
<line x1="20.5" y1="697.0" x2="20.5" y2="711.5" stroke="#1c7b78" stroke-width="1"/>
<rect x="16.5" y="694.5" width="8" height="2.5" fill="#f0c090" stroke="#b36a2a" stroke-width="1.1"/>
<line x1="32.5" y1="713.1" x2="32.5" y2="725.4" stroke="#c82828" stroke-width="1"/>
<rect x="28.5" y="695.7" width="8" height="17.4" fill="#ee1010" stroke="#e01010" stroke-width="1.1"/>
<line x1="44.5" y1="677.3" x2="44.5" y2="702.3" stroke="#1c7b78" stroke-width="1"/>
<line x1="44.5" y1="713.5" x2="44.5" y2="727.6" stroke="#1c7b78" stroke-width="1"/>
<rect x="40.5" y="702.3" width="8" height="11.2" fill="none" stroke="#111" stroke-width="1.1"/>
<line x1="56.5" y1="685.2" x2="56.5" y2="692.5" stroke="#1c7b78" stroke-width="1"/>
<line x1="56.5" y1="702.3" x2="56.5" y2="718.7" stroke="#1c7b78" stroke-width="1"/>
<rect x="52.5" y="692.5" width="8" height="9.8" fill="none" stroke="#111" stroke-width="1.1"/>
<line x1="68.5" y1="679.6" x2="68.5" y2="698.0" stroke="#c82828" stroke-width="1"/>
<rect x="64.3" y="698.0" width="8.4" height="1.0" fill="#d02020"/>
<line x1="80.5" y1="686.9" x2="80.5" y2="694.1" stroke="#1c7b78" stroke-width="1"/>
<rect x="76.5" y="694.1" width="8" height="2.9" fill="none" stroke="#111" stroke-width="1.1"/>
<line x1="92.5" y1="687.4" x2="92.5" y2="690.7" stroke="#22705a" stroke-width="1"/>
<rect x="88.5" y="690.7" width="8" height="4.9" fill="none" stroke="#42cc4a" stroke-width="1.1"/>
<rect x="100.5" y="662.8" width="8" height="27.5" fill="none" stroke="#42cc4a" stroke-width="1.1"/>
<line x1="116.5" y1="656.1" x2="116.5" y2="663.3" stroke="#b33030" stroke-width="1"/>
<line x1="116.5" y1="667.7" x2="116.5" y2="670.6" stroke="#b33030" stroke-width="1"/>
<rect x="112.5" y="663.3" width="8" height="4.4" fill="#10f010" stroke="#8a6a2a" stroke-width="1.1"/>
<line x1="128.5" y1="661.7" x2="128.5" y2="667.3" stroke="#b33030" stroke-width="1"/>
<line x1="128.5" y1="674.0" x2="128.5" y2="687.4" stroke="#b33030" stroke-width="1"/>
<rect x="124.5" y="667.3" width="8" height="6.7" fill="#080808" stroke="#8a2020" stroke-width="1.1"/>
<line x1="140.5" y1="665.0" x2="140.5" y2="674.0" stroke="#c82828" stroke-width="1"/>
<line x1="140.5" y1="675.8" x2="140.5" y2="686.3" stroke="#c82828" stroke-width="1"/>
<rect x="136.5" y="674.0" width="8" height="1.8" fill="#ee1010" stroke="#e01010" stroke-width="1.1"/>
<line x1="152.5" y1="660.6" x2="152.5" y2="675.3" stroke="#c82828" stroke-width="1"/>
<line x1="152.5" y1="676.3" x2="152.5" y2="680.7" stroke="#c82828" stroke-width="1"/>
<rect x="148.3" y="675.3" width="8.4" height="1.0" fill="#d02020"/>
<line x1="164.5" y1="666.2" x2="164.5" y2="670.2" stroke="#1c7b78" stroke-width="1"/>
<rect x="160.5" y="670.2" width="8" height="7.1" fill="none" stroke="#a83232" stroke-width="1.1"/>
<line x1="176.5" y1="670.2" x2="176.5" y2="671.8" stroke="#c82828" stroke-width="1"/>
<line x1="176.5" y1="680.2" x2="176.5" y2="682.9" stroke="#c82828" stroke-width="1"/>
<rect x="172.5" y="671.8" width="8" height="8.4" fill="#ee1010" stroke="#e01010" stroke-width="1.1"/>
<line x1="188.5" y1="674.0" x2="188.5" y2="679.6" stroke="#c82828" stroke-width="1"/>
<line x1="188.5" y1="695.2" x2="188.5" y2="696.3" stroke="#c82828" stroke-width="1"/>
<rect x="184.5" y="679.6" width="8" height="15.6" fill="#ee1010" stroke="#e01010" stroke-width="1.1"/>
<line x1="200.5" y1="695.2" x2="200.5" y2="705.2" stroke="#1c7b78" stroke-width="1"/>
<rect x="196.5" y="674.0" width="8" height="21.2" fill="none" stroke="#a83232" stroke-width="1.1"/>
<line x1="212.5" y1="672.4" x2="212.5" y2="674.0" stroke="#c82828" stroke-width="1"/>
<line x1="212.5" y1="690.1" x2="212.5" y2="691.9" stroke="#c82828" stroke-width="1"/>
<rect x="208.5" y="674.0" width="8" height="16.1" fill="#ee1010" stroke="#e01010" stroke-width="1.1"/>
<line x1="224.5" y1="674.0" x2="224.5" y2="682.9" stroke="#1c7b78" stroke-width="1"/>
<line x1="224.5" y1="689.2" x2="224.5" y2="693.0" stroke="#1c7b78" stroke-width="1"/>
<rect x="220.5" y="682.9" width="8" height="6.3" fill="none" stroke="#111" stroke-width="1.1"/>
<line x1="236.5" y1="665.7" x2="236.5" y2="668.0" stroke="#1c7b78" stroke-width="1"/>
<line x1="236.5" y1="682.3" x2="236.5" y2="682.9" stroke="#1c7b78" stroke-width="1"/>
<rect x="232.5" y="668.0" width="8" height="14.3" fill="none" stroke="#111" stroke-width="1.1"/>
<line x1="248.5" y1="616.6" x2="248.5" y2="618.6" stroke="#22705a" stroke-width="1"/>
<rect x="244.5" y="618.6" width="8" height="55.4" fill="none" stroke="#42cc4a" stroke-width="1.1"/>
<line x1="260.5" y1="611.0" x2="260.5" y2="619.3" stroke="#b33030" stroke-width="1"/>
<line x1="260.5" y1="625.3" x2="260.5" y2="628.7" stroke="#b33030" stroke-width="1"/>
<rect x="256.5" y="619.3" width="8" height="6.0" fill="#10f010" stroke="#8a6a2a" stroke-width="1.1"/>
<line x1="272.5" y1="614.8" x2="272.5" y2="622.2" stroke="#22705a" stroke-width="1"/>
<rect x="268.5" y="622.2" width="8" height="3.1" fill="#b9f3b9" stroke="#42cc4a" stroke-width="1.1"/>
<line x1="284.5" y1="608.8" x2="284.5" y2="610.3" stroke="#22705a" stroke-width="1"/>
<line x1="284.5" y1="620.4" x2="284.5" y2="626.6" stroke="#22705a" stroke-width="1"/>
<rect x="280.5" y="610.3" width="8" height="10.1" fill="none" stroke="#42cc4a" stroke-width="1.1"/>
<line x1="296.5" y1="605.2" x2="296.5" y2="610.8" stroke="#b33030" stroke-width="1"/>
<line x1="296.5" y1="618.6" x2="296.5" y2="628.2" stroke="#b33030" stroke-width="1"/>
<rect x="292.5" y="610.8" width="8" height="7.8" fill="#080808" stroke="#8a2020" stroke-width="1.1"/>
<line x1="308.5" y1="596.9" x2="308.5" y2="599.2" stroke="#1c7b78" stroke-width="1"/>
<rect x="304.5" y="599.2" width="8" height="19.6" fill="none" stroke="#111" stroke-width="1.1"/>
<line x1="320.5" y1="589.6" x2="320.5" y2="591.8" stroke="#1c7b78" stroke-width="1"/>
<line x1="320.5" y1="599.2" x2="320.5" y2="610.3" stroke="#1c7b78" stroke-width="1"/>
<rect x="316.5" y="591.8" width="8" height="7.4" fill="none" stroke="#111" stroke-width="1.1"/>
<line x1="332.5" y1="588.7" x2="332.5" y2="591.8" stroke="#b33030" stroke-width="1"/>
<line x1="332.5" y1="604.8" x2="332.5" y2="609.2" stroke="#b33030" stroke-width="1"/>
<rect x="328.5" y="591.8" width="8" height="13.0" fill="#080808" stroke="#8a2020" stroke-width="1.1"/>
<line x1="344.5" y1="578.2" x2="344.5" y2="605.4" stroke="#b33030" stroke-width="1"/>
<line x1="344.5" y1="609.7" x2="344.5" y2="627.3" stroke="#b33030" stroke-width="1"/>
<rect x="340.5" y="605.4" width="8" height="4.3" fill="#080808" stroke="#8a2020" stroke-width="1.1"/>
<line x1="356.5" y1="603.0" x2="356.5" y2="603.8" stroke="#1c7b78" stroke-width="1"/>
<line x1="356.5" y1="610.1" x2="356.5" y2="611.0" stroke="#1c7b78" stroke-width="1"/>
<rect x="352.5" y="603.8" width="8" height="6.3" fill="none" stroke="#111" stroke-width="1.1"/>
<line x1="368.5" y1="598.3" x2="368.5" y2="603.2" stroke="#c82828" stroke-width="1"/>
<line x1="368.5" y1="605.0" x2="368.5" y2="606.0" stroke="#c82828" stroke-width="1"/>
<rect x="364.5" y="603.2" width="8" height="1.8" fill="#ee1010" stroke="#e01010" stroke-width="1.1"/>
<line x1="380.5" y1="594.9" x2="380.5" y2="602.7" stroke="#1c7b78" stroke-width="1"/>
<rect x="376.5" y="602.7" width="8" height="2.3" fill="none" stroke="#a83232" stroke-width="1.1"/>
<line x1="392.5" y1="601.0" x2="392.5" y2="602.3" stroke="#c82828" stroke-width="1"/>
<line x1="392.5" y1="616.8" x2="392.5" y2="628.4" stroke="#c82828" stroke-width="1"/>
<rect x="388.5" y="602.3" width="8" height="14.5" fill="#ee1010" stroke="#e01010" stroke-width="1.1"/>
<line x1="404.5" y1="610.5" x2="404.5" y2="617.2" stroke="#c82828" stroke-width="1"/>
<line x1="404.5" y1="628.0" x2="404.5" y2="635.8" stroke="#c82828" stroke-width="1"/>
<rect x="400.5" y="617.2" width="8" height="10.8" fill="#ee1010" stroke="#e01010" stroke-width="1.1"/>
<line x1="416.5" y1="623.9" x2="416.5" y2="628.4" stroke="#c82828" stroke-width="1"/>
<line x1="416.5" y1="640.2" x2="416.5" y2="647.4" stroke="#c82828" stroke-width="1"/>
<rect x="412.5" y="628.4" width="8" height="11.8" fill="#ee1010" stroke="#e01010" stroke-width="1.1"/>
<line x1="428.5" y1="620.6" x2="428.5" y2="622.4" stroke="#1c7b78" stroke-width="1"/>
<line x1="428.5" y1="640.2" x2="428.5" y2="651.9" stroke="#1c7b78" stroke-width="1"/>
<rect x="424.5" y="622.4" width="8" height="17.8" fill="none" stroke="#a83232" stroke-width="1.1"/>
<line x1="440.5" y1="608.3" x2="440.5" y2="615.0" stroke="#1c7b78" stroke-width="1"/>
<line x1="440.5" y1="622.2" x2="440.5" y2="631.8" stroke="#1c7b78" stroke-width="1"/>
<rect x="436.5" y="615.0" width="8" height="7.2" fill="none" stroke="#111" stroke-width="1.1"/>
<line x1="452.5" y1="575.9" x2="452.5" y2="613.4" stroke="#b33030" stroke-width="1"/>
<line x1="452.5" y1="666.8" x2="452.5" y2="674.2" stroke="#b33030" stroke-width="1"/>
<rect x="448.5" y="613.4" width="8" height="53.4" fill="#080808" stroke="#8a2020" stroke-width="1.1"/>
<line x1="464.5" y1="642.9" x2="464.5" y2="653.4" stroke="#1c7b78" stroke-width="1"/>
<line x1="464.5" y1="668.2" x2="464.5" y2="674.6" stroke="#1c7b78" stroke-width="1"/>
<rect x="460.5" y="653.4" width="8" height="14.8" fill="none" stroke="#a83232" stroke-width="1.1"/>
<line x1="476.5" y1="634.0" x2="476.5" y2="644.5" stroke="#1c7b78" stroke-width="1"/>
<line x1="476.5" y1="654.1" x2="476.5" y2="660.3" stroke="#1c7b78" stroke-width="1"/>
<rect x="472.5" y="644.5" width="8" height="9.6" fill="none" stroke="#111" stroke-width="1.1"/>
<line x1="488.5" y1="638.5" x2="488.5" y2="644.7" stroke="#b33030" stroke-width="1"/>
<line x1="488.5" y1="654.8" x2="488.5" y2="664.8" stroke="#b33030" stroke-width="1"/>
<rect x="484.5" y="644.7" width="8" height="10.1" fill="#080808" stroke="#8a2020" stroke-width="1.1"/>
<line x1="500.5" y1="688.0" x2="500.5" y2="693.2" stroke="#c82828" stroke-width="1"/>
<rect x="496.5" y="654.1" width="8" height="33.9" fill="#ee1010" stroke="#e01010" stroke-width="1.1"/>
<line x1="513.5" y1="630.6" x2="513.5" y2="633.5" stroke="#1c7b78" stroke-width="1"/>
<line x1="513.5" y1="688.3" x2="513.5" y2="690.5" stroke="#1c7b78" stroke-width="1"/>
<rect x="509.5" y="633.5" width="8" height="54.8" fill="none" stroke="#a83232" stroke-width="1.1"/>
<line x1="525.5" y1="631.8" x2="525.5" y2="633.3" stroke="#b33030" stroke-width="1"/>
<line x1="525.5" y1="647.4" x2="525.5" y2="648.5" stroke="#b33030" stroke-width="1"/>
<rect x="521.5" y="633.3" width="8" height="14.1" fill="#10f010" stroke="#8a6a2a" stroke-width="1.1"/>
<line x1="537.5" y1="644.7" x2="537.5" y2="646.9" stroke="#c82828" stroke-width="1"/>
<line x1="537.5" y1="682.0" x2="537.5" y2="704.3" stroke="#c82828" stroke-width="1"/>
<rect x="533.5" y="646.9" width="8" height="35.1" fill="#ee1010" stroke="#e01010" stroke-width="1.1"/>
<line x1="549.5" y1="672.0" x2="549.5" y2="682.0" stroke="#c82828" stroke-width="1"/>
<line x1="549.5" y1="683.0" x2="549.5" y2="683.1" stroke="#c82828" stroke-width="1"/>
<rect x="545.3" y="682.0" width="8.4" height="1.0" fill="#d02020"/>
<line x1="561.5" y1="672.4" x2="561.5" y2="678.0" stroke="#1c7b78" stroke-width="1"/>
<rect x="557.5" y="678.0" width="8" height="4.0" fill="none" stroke="#111" stroke-width="1.1"/>
<line x1="573.5" y1="684.2" x2="573.5" y2="689.8" stroke="#c82828" stroke-width="1"/>
<rect x="569.5" y="677.5" width="8" height="6.7" fill="#ee1010" stroke="#e01010" stroke-width="1.1"/>
<line x1="585.5" y1="658.1" x2="585.5" y2="662.6" stroke="#1c7b78" stroke-width="1"/>
<line x1="585.5" y1="684.2" x2="585.5" y2="696.5" stroke="#1c7b78" stroke-width="1"/>
<rect x="581.5" y="662.6" width="8" height="21.6" fill="none" stroke="#a83232" stroke-width="1.1"/>
<line x1="597.5" y1="650.1" x2="597.5" y2="662.6" stroke="#b33030" stroke-width="1"/>
<line x1="597.5" y1="673.1" x2="597.5" y2="678.7" stroke="#b33030" stroke-width="1"/>
<rect x="593.5" y="662.6" width="8" height="10.5" fill="#10f010" stroke="#8a6a2a" stroke-width="1.1"/>
<line x1="609.5" y1="673.1" x2="609.5" y2="676.4" stroke="#22705a" stroke-width="1"/>
<rect x="605.5" y="653.6" width="8" height="19.5" fill="none" stroke="#42cc4a" stroke-width="1.1"/>
<line x1="621.5" y1="653.0" x2="621.5" y2="654.5" stroke="#b33030" stroke-width="1"/>
<line x1="621.5" y1="668.6" x2="621.5" y2="676.4" stroke="#b33030" stroke-width="1"/>
<rect x="617.5" y="654.5" width="8" height="14.1" fill="#10f010" stroke="#8a6a2a" stroke-width="1.1"/>
<line x1="633.5" y1="626.8" x2="633.5" y2="635.1" stroke="#22705a" stroke-width="1"/>
<line x1="633.5" y1="669.0" x2="633.5" y2="677.5" stroke="#22705a" stroke-width="1"/>
<rect x="629.5" y="635.1" width="8" height="33.9" fill="none" stroke="#42cc4a" stroke-width="1.1"/>
<line x1="645.5" y1="612.8" x2="645.5" y2="614.6" stroke="#22705a" stroke-width="1"/>
<line x1="645.5" y1="635.1" x2="645.5" y2="639.6" stroke="#22705a" stroke-width="1"/>
<rect x="641.5" y="614.6" width="8" height="20.5" fill="none" stroke="#42cc4a" stroke-width="1.1"/>
<line x1="657.5" y1="610.5" x2="657.5" y2="613.4" stroke="#2fa24a" stroke-width="1"/>
<line x1="657.5" y1="614.4" x2="657.5" y2="617.7" stroke="#2fa24a" stroke-width="1"/>
<rect x="653.3" y="613.4" width="8.4" height="1.0" fill="#3fbf4a"/>
<line x1="669.5" y1="600.9" x2="669.5" y2="603.2" stroke="#22705a" stroke-width="1"/>
<line x1="669.5" y1="612.3" x2="669.5" y2="613.9" stroke="#22705a" stroke-width="1"/>
<rect x="665.5" y="603.2" width="8" height="9.1" fill="none" stroke="#42cc4a" stroke-width="1.1"/>
<line x1="681.5" y1="592.0" x2="681.5" y2="595.4" stroke="#22705a" stroke-width="1"/>
<line x1="681.5" y1="603.2" x2="681.5" y2="611.0" stroke="#22705a" stroke-width="1"/>
<rect x="677.5" y="595.4" width="8" height="7.8" fill="none" stroke="#42cc4a" stroke-width="1.1"/>
<line x1="693.5" y1="556.5" x2="693.5" y2="565.2" stroke="#22705a" stroke-width="1"/>
<line x1="693.5" y1="595.4" x2="693.5" y2="603.5" stroke="#22705a" stroke-width="1"/>
<rect x="689.5" y="565.2" width="8" height="30.2" fill="none" stroke="#42cc4a" stroke-width="1.1"/>
<line x1="705.5" y1="545.2" x2="705.5" y2="551.4" stroke="#22705a" stroke-width="1"/>
<line x1="705.5" y1="564.8" x2="705.5" y2="574.2" stroke="#22705a" stroke-width="1"/>
<rect x="701.5" y="551.4" width="8" height="13.4" fill="none" stroke="#42cc4a" stroke-width="1.1"/>
<line x1="717.5" y1="542.9" x2="717.5" y2="551.5" stroke="#c82828" stroke-width="1"/>
<line x1="717.5" y1="553.1" x2="717.5" y2="568.6" stroke="#c82828" stroke-width="1"/>
<rect x="713.3" y="551.5" width="8.4" height="1.6" fill="#d02020"/>
<line x1="729.5" y1="554.1" x2="729.5" y2="566.4" stroke="#1c7b78" stroke-width="1"/>
<rect x="725.5" y="530.2" width="8" height="23.9" fill="none" stroke="#111" stroke-width="1.1"/>
<line x1="741.5" y1="510.5" x2="741.5" y2="512.3" stroke="#22705a" stroke-width="1"/>
<rect x="737.5" y="512.3" width="8" height="18.8" fill="none" stroke="#42cc4a" stroke-width="1.1"/>
<line x1="753.5" y1="510.5" x2="753.5" y2="512.8" stroke="#b33030" stroke-width="1"/>
<line x1="753.5" y1="515.0" x2="753.5" y2="520.6" stroke="#b33030" stroke-width="1"/>
<rect x="749.5" y="512.8" width="8" height="2.2" fill="#080808" stroke="#8a2020" stroke-width="1.1"/>
<line x1="765.5" y1="507.2" x2="765.5" y2="513.4" stroke="#1c7b78" stroke-width="1"/>
<line x1="765.5" y1="515.4" x2="765.5" y2="527.3" stroke="#1c7b78" stroke-width="1"/>
<rect x="761.5" y="513.4" width="8" height="2.0" fill="none" stroke="#111" stroke-width="1.1"/>
<line x1="777.5" y1="492.7" x2="777.5" y2="513.4" stroke="#c82828" stroke-width="1"/>
<line x1="777.5" y1="514.4" x2="777.5" y2="529.5" stroke="#c82828" stroke-width="1"/>
<rect x="773.3" y="513.4" width="8.4" height="1.0" fill="#d02020"/>
<line x1="789.5" y1="494.2" x2="789.5" y2="502.7" stroke="#1c7b78" stroke-width="1"/>
<line x1="789.5" y1="514.3" x2="789.5" y2="518.4" stroke="#1c7b78" stroke-width="1"/>
<rect x="785.5" y="502.7" width="8" height="11.6" fill="none" stroke="#111" stroke-width="1.1"/>
<line x1="801.5" y1="441.3" x2="801.5" y2="452.5" stroke="#1c7b78" stroke-width="1"/>
<line x1="801.5" y1="502.3" x2="801.5" y2="508.3" stroke="#1c7b78" stroke-width="1"/>
<rect x="797.5" y="452.5" width="8" height="49.8" fill="none" stroke="#111" stroke-width="1.1"/>
<line x1="813.5" y1="445.8" x2="813.5" y2="452.5" stroke="#c82828" stroke-width="1"/>
<line x1="813.5" y1="453.3" x2="813.5" y2="463.6" stroke="#c82828" stroke-width="1"/>
<rect x="809.3" y="452.5" width="8.4" height="1.0" fill="#d02020"/>
<line x1="825.5" y1="446.2" x2="825.5" y2="453.6" stroke="#b33030" stroke-width="1"/>
<line x1="825.5" y1="461.9" x2="825.5" y2="480.4" stroke="#b33030" stroke-width="1"/>
<rect x="821.5" y="453.6" width="8" height="8.3" fill="#080808" stroke="#8a2020" stroke-width="1.1"/>
<line x1="837.5" y1="451.4" x2="837.5" y2="461.4" stroke="#b33030" stroke-width="1"/>
<rect x="833.5" y="461.4" width="8" height="36.4" fill="#080808" stroke="#8a2020" stroke-width="1.1"/>
<line x1="849.5" y1="479.3" x2="849.5" y2="487.5" stroke="#1c7b78" stroke-width="1"/>
<line x1="849.5" y1="497.6" x2="849.5" y2="504.5" stroke="#1c7b78" stroke-width="1"/>
<rect x="845.5" y="487.5" width="8" height="10.1" fill="none" stroke="#a83232" stroke-width="1.1"/>
<line x1="861.5" y1="476.4" x2="861.5" y2="483.8" stroke="#1c7b78" stroke-width="1"/>
<line x1="861.5" y1="484.8" x2="861.5" y2="493.8" stroke="#1c7b78" stroke-width="1"/>
<rect x="857.3" y="483.8" width="8.4" height="1.0" fill="#1c7b78"/>
<line x1="873.5" y1="473.7" x2="873.5" y2="484.0" stroke="#1c7b78" stroke-width="1"/>
<line x1="873.5" y1="485.0" x2="873.5" y2="509.4" stroke="#1c7b78" stroke-width="1"/>
<rect x="869.3" y="484.0" width="8.4" height="1.0" fill="#1c7b78"/>
<line x1="885.5" y1="465.2" x2="885.5" y2="474.8" stroke="#1c7b78" stroke-width="1"/>
<rect x="881.5" y="474.8" width="8" height="9.6" fill="none" stroke="#a83232" stroke-width="1.1"/>
<line x1="897.5" y1="460.3" x2="897.5" y2="474.8" stroke="#b33030" stroke-width="1"/>
<line x1="897.5" y1="478.8" x2="897.5" y2="487.1" stroke="#b33030" stroke-width="1"/>
<rect x="893.5" y="474.8" width="8" height="4.0" fill="#080808" stroke="#8a2020" stroke-width="1.1"/>
<line x1="909.5" y1="475.9" x2="909.5" y2="477.5" stroke="#c82828" stroke-width="1"/>
<line x1="909.5" y1="478.5" x2="909.5" y2="492.7" stroke="#c82828" stroke-width="1"/>
<rect x="905.3" y="477.5" width="8.4" height="1.0" fill="#d02020"/>
<line x1="921.5" y1="471.5" x2="921.5" y2="479.3" stroke="#c82828" stroke-width="1"/>
<line x1="921.5" y1="522.4" x2="921.5" y2="524.0" stroke="#c82828" stroke-width="1"/>
<rect x="917.5" y="479.3" width="8" height="43.1" fill="#ee1010" stroke="#e01010" stroke-width="1.1"/>
<line x1="933.5" y1="516.1" x2="933.5" y2="522.2" stroke="#c82828" stroke-width="1"/>
<line x1="933.5" y1="549.2" x2="933.5" y2="551.9" stroke="#c82828" stroke-width="1"/>
<rect x="929.5" y="522.2" width="8" height="27.0" fill="#ee1010" stroke="#e01010" stroke-width="1.1"/>
<line x1="945.5" y1="528.4" x2="945.5" y2="531.3" stroke="#1c7b78" stroke-width="1"/>
<line x1="945.5" y1="549.2" x2="945.5" y2="559.7" stroke="#1c7b78" stroke-width="1"/>
<rect x="941.5" y="531.3" width="8" height="17.9" fill="none" stroke="#a83232" stroke-width="1.1"/>
<line x1="957.5" y1="506.1" x2="957.5" y2="510.5" stroke="#1c7b78" stroke-width="1"/>
<line x1="957.5" y1="529.5" x2="957.5" y2="531.8" stroke="#1c7b78" stroke-width="1"/>
<rect x="953.5" y="510.5" width="8" height="19.0" fill="none" stroke="#a83232" stroke-width="1.1"/>
<line x1="969.5" y1="507.2" x2="969.5" y2="510.5" stroke="#c82828" stroke-width="1"/>
<line x1="969.5" y1="529.5" x2="969.5" y2="541.1" stroke="#c82828" stroke-width="1"/>
<rect x="965.5" y="510.5" width="8" height="19.0" fill="#ee1010" stroke="#e01010" stroke-width="1.1"/>
<line x1="981.5" y1="511.7" x2="981.5" y2="523.9" stroke="#1c7b78" stroke-width="1"/>
<line x1="981.5" y1="530.2" x2="981.5" y2="537.3" stroke="#1c7b78" stroke-width="1"/>
<rect x="977.5" y="523.9" width="8" height="6.3" fill="none" stroke="#111" stroke-width="1.1"/>
<line x1="993.5" y1="490.4" x2="993.5" y2="497.1" stroke="#22705a" stroke-width="1"/>
<rect x="989.5" y="497.1" width="8" height="26.8" fill="none" stroke="#42cc4a" stroke-width="1.1"/>
<line x1="1005.5" y1="491.1" x2="1005.5" y2="497.6" stroke="#b33030" stroke-width="1"/>
<line x1="1005.5" y1="526.2" x2="1005.5" y2="538.5" stroke="#b33030" stroke-width="1"/>
<rect x="1001.5" y="497.6" width="8" height="28.6" fill="#10f010" stroke="#8a6a2a" stroke-width="1.1"/>
<line x1="1017.5" y1="531.1" x2="1017.5" y2="553.0" stroke="#c82828" stroke-width="1"/>
<rect x="1013.5" y="526.6" width="8" height="4.5" fill="#ee1010" stroke="#e01010" stroke-width="1.1"/>
<line x1="1029.5" y1="494.9" x2="1029.5" y2="500.5" stroke="#1c7b78" stroke-width="1"/>
<line x1="1029.5" y1="531.1" x2="1029.5" y2="536.7" stroke="#1c7b78" stroke-width="1"/>
<rect x="1025.5" y="500.5" width="8" height="30.6" fill="none" stroke="#111" stroke-width="1.1"/>
<line x1="1041.5" y1="497.2" x2="1041.5" y2="501.3" stroke="#b33030" stroke-width="1"/>
<line x1="1041.5" y1="510.6" x2="1041.5" y2="516.2" stroke="#b33030" stroke-width="1"/>
<rect x="1037.5" y="501.3" width="8" height="9.3" fill="#080808" stroke="#8a2020" stroke-width="1.1"/>
<line x1="1053.5" y1="506.2" x2="1053.5" y2="509.1" stroke="#1c7b78" stroke-width="1"/>
<line x1="1053.5" y1="511.3" x2="1053.5" y2="527.4" stroke="#1c7b78" stroke-width="1"/>
<rect x="1049.5" y="509.1" width="8" height="2.2" fill="#f0c090" stroke="#b36a2a" stroke-width="1.1"/>
<line x1="1065.5" y1="501.7" x2="1065.5" y2="509.5" stroke="#b33030" stroke-width="1"/>
<line x1="1065.5" y1="516.2" x2="1065.5" y2="531.9" stroke="#b33030" stroke-width="1"/>
<rect x="1061.5" y="509.5" width="8" height="6.7" fill="#080808" stroke="#8a2020" stroke-width="1.1"/>
<line x1="1077.5" y1="505.0" x2="1077.5" y2="515.1" stroke="#b33030" stroke-width="1"/>
<line x1="1077.5" y1="518.5" x2="1077.5" y2="523.0" stroke="#b33030" stroke-width="1"/>
<rect x="1073.5" y="515.1" width="8" height="3.4" fill="#10f010" stroke="#8a6a2a" stroke-width="1.1"/>
<line x1="1090.5" y1="500.6" x2="1090.5" y2="506.6" stroke="#1c7b78" stroke-width="1"/>
<line x1="1090.5" y1="519.6" x2="1090.5" y2="525.2" stroke="#1c7b78" stroke-width="1"/>
<rect x="1086.5" y="506.6" width="8" height="13.0" fill="none" stroke="#a83232" stroke-width="1.1"/>
<line x1="1102.5" y1="496.1" x2="1102.5" y2="504.5" stroke="#1c7b78" stroke-width="1"/>
<line x1="1102.5" y1="505.5" x2="1102.5" y2="522.9" stroke="#1c7b78" stroke-width="1"/>
<rect x="1098.3" y="504.5" width="8.4" height="1.0" fill="#1c7b78"/>
<line x1="1114.5" y1="454.8" x2="1114.5" y2="460.4" stroke="#22705a" stroke-width="1"/>
<rect x="1110.5" y="460.4" width="8" height="43.5" fill="none" stroke="#42cc4a" stroke-width="1.1"/>
<line x1="1126.5" y1="454.8" x2="1126.5" y2="459.3" stroke="#b33030" stroke-width="1"/>
<line x1="1126.5" y1="463.7" x2="1126.5" y2="472.7" stroke="#b33030" stroke-width="1"/>
<rect x="1122.5" y="459.3" width="8" height="4.4" fill="#10f010" stroke="#8a6a2a" stroke-width="1.1"/>
<rect x="1134.5" y="462.6" width="8" height="29.7" fill="#10f010" stroke="#8a6a2a" stroke-width="1.1"/>
<line x1="1150.5" y1="491.7" x2="1150.5" y2="500.6" stroke="#22705a" stroke-width="1"/>
<rect x="1146.5" y="449.2" width="8" height="42.5" fill="none" stroke="#42cc4a" stroke-width="1.1"/>
<line x1="1162.5" y1="429.6" x2="1162.5" y2="437.6" stroke="#22705a" stroke-width="1"/>
<line x1="1162.5" y1="449.2" x2="1162.5" y2="478.3" stroke="#22705a" stroke-width="1"/>
<rect x="1158.5" y="437.6" width="8" height="11.6" fill="none" stroke="#42cc4a" stroke-width="1.1"/>
<line x1="1174.5" y1="396.1" x2="1174.5" y2="400.1" stroke="#22705a" stroke-width="1"/>
<line x1="1174.5" y1="437.4" x2="1174.5" y2="439.2" stroke="#22705a" stroke-width="1"/>
<rect x="1170.5" y="400.1" width="8" height="37.3" fill="none" stroke="#42cc4a" stroke-width="1.1"/>
<line x1="1186.5" y1="396.7" x2="1186.5" y2="400.5" stroke="#b33030" stroke-width="1"/>
<line x1="1186.5" y1="416.2" x2="1186.5" y2="420.2" stroke="#b33030" stroke-width="1"/>
<rect x="1182.5" y="400.5" width="8" height="15.7" fill="#10f010" stroke="#8a6a2a" stroke-width="1.1"/>
<line x1="1198.5" y1="377.5" x2="1198.5" y2="407.2" stroke="#22705a" stroke-width="1"/>
<line x1="1198.5" y1="416.2" x2="1198.5" y2="417.0" stroke="#22705a" stroke-width="1"/>
<rect x="1194.5" y="407.2" width="8" height="9.0" fill="none" stroke="#42cc4a" stroke-width="1.1"/>
<line x1="1210.5" y1="375.3" x2="1210.5" y2="379.3" stroke="#22705a" stroke-width="1"/>
<line x1="1210.5" y1="406.1" x2="1210.5" y2="413.3" stroke="#22705a" stroke-width="1"/>
<rect x="1206.5" y="379.3" width="8" height="26.8" fill="none" stroke="#42cc4a" stroke-width="1.1"/>
<line x1="1222.5" y1="374.2" x2="1222.5" y2="380.4" stroke="#b33030" stroke-width="1"/>
<line x1="1222.5" y1="389.4" x2="1222.5" y2="391.0" stroke="#b33030" stroke-width="1"/>
<rect x="1218.5" y="380.4" width="8" height="9.0" fill="#10f010" stroke="#8a6a2a" stroke-width="1.1"/>
<line x1="1234.5" y1="373.7" x2="1234.5" y2="376.4" stroke="#1c7b78" stroke-width="1"/>
<line x1="1234.5" y1="389.4" x2="1234.5" y2="391.6" stroke="#1c7b78" stroke-width="1"/>
<rect x="1230.5" y="376.4" width="8" height="13.0" fill="none" stroke="#111" stroke-width="1.1"/>
<line x1="1246.5" y1="363.0" x2="1246.5" y2="366.4" stroke="#1c7b78" stroke-width="1"/>
<line x1="1246.5" y1="375.3" x2="1246.5" y2="387.6" stroke="#1c7b78" stroke-width="1"/>
<rect x="1242.5" y="366.4" width="8" height="8.9" fill="none" stroke="#111" stroke-width="1.1"/>
<line x1="1258.5" y1="321.3" x2="1258.5" y2="325.5" stroke="#1c7b78" stroke-width="1"/>
<line x1="1258.5" y1="366.4" x2="1258.5" y2="367.5" stroke="#1c7b78" stroke-width="1"/>
<rect x="1254.5" y="325.5" width="8" height="40.9" fill="none" stroke="#111" stroke-width="1.1"/>
<line x1="1270.5" y1="313.9" x2="1270.5" y2="325.5" stroke="#b33030" stroke-width="1"/>
<line x1="1270.5" y1="339.6" x2="1270.5" y2="341.1" stroke="#b33030" stroke-width="1"/>
<rect x="1266.5" y="325.5" width="8" height="14.1" fill="#10f010" stroke="#8a6a2a" stroke-width="1.1"/>
<line x1="1282.5" y1="333.3" x2="1282.5" y2="339.6" stroke="#c82828" stroke-width="1"/>
<line x1="1282.5" y1="430.2" x2="1282.5" y2="439.2" stroke="#c82828" stroke-width="1"/>
<rect x="1278.5" y="339.6" width="8" height="90.6" fill="#ee1010" stroke="#e01010" stroke-width="1.1"/>
<line x1="1294.5" y1="394.3" x2="1294.5" y2="398.3" stroke="#1c7b78" stroke-width="1"/>
<rect x="1290.5" y="398.3" width="8" height="33.1" fill="none" stroke="#a83232" stroke-width="1.1"/>
<line x1="1306.5" y1="341.1" x2="1306.5" y2="366.4" stroke="#1c7b78" stroke-width="1"/>
<line x1="1306.5" y1="397.2" x2="1306.5" y2="409.2" stroke="#1c7b78" stroke-width="1"/>
<rect x="1302.5" y="366.4" width="8" height="30.8" fill="none" stroke="#a83232" stroke-width="1.1"/>
<line x1="1318.5" y1="349.2" x2="1318.5" y2="352.5" stroke="#1c7b78" stroke-width="1"/>
<line x1="1318.5" y1="366.4" x2="1318.5" y2="367.5" stroke="#1c7b78" stroke-width="1"/>
<rect x="1314.5" y="352.5" width="8" height="13.9" fill="none" stroke="#a83232" stroke-width="1.1"/>
<line x1="1330.5" y1="331.3" x2="1330.5" y2="336.2" stroke="#1c7b78" stroke-width="1"/>
<line x1="1330.5" y1="351.4" x2="1330.5" y2="353.0" stroke="#1c7b78" stroke-width="1"/>
<rect x="1326.5" y="336.2" width="8" height="15.2" fill="none" stroke="#a83232" stroke-width="1.1"/>
<line x1="1342.5" y1="323.9" x2="1342.5" y2="331.3" stroke="#22705a" stroke-width="1"/>
<line x1="1342.5" y1="334.4" x2="1342.5" y2="340.7" stroke="#22705a" stroke-width="1"/>
<rect x="1338.5" y="331.3" width="8" height="3.1" fill="#b9f3b9" stroke="#42cc4a" stroke-width="1.1"/>
<line x1="1354.5" y1="308.3" x2="1354.5" y2="329.1" stroke="#22705a" stroke-width="1"/>
<line x1="1354.5" y1="331.3" x2="1354.5" y2="339.6" stroke="#22705a" stroke-width="1"/>
<rect x="1350.5" y="329.1" width="8" height="2.2" fill="#b9f3b9" stroke="#42cc4a" stroke-width="1.1"/>
<line x1="1366.5" y1="317.2" x2="1366.5" y2="329.5" stroke="#b33030" stroke-width="1"/>
<line x1="1366.5" y1="333.3" x2="1366.5" y2="342.9" stroke="#b33030" stroke-width="1"/>
<rect x="1362.5" y="329.5" width="8" height="3.8" fill="#10f010" stroke="#8a6a2a" stroke-width="1.1"/>
<line x1="1378.5" y1="275.9" x2="1378.5" y2="286.4" stroke="#22705a" stroke-width="1"/>
<rect x="1374.5" y="286.4" width="8" height="48.0" fill="none" stroke="#42cc4a" stroke-width="1.1"/>
<line x1="1390.5" y1="282.2" x2="1390.5" y2="286.6" stroke="#b33030" stroke-width="1"/>
<line x1="1390.5" y1="316.1" x2="1390.5" y2="324.6" stroke="#b33030" stroke-width="1"/>
<rect x="1386.5" y="286.6" width="8" height="29.5" fill="#080808" stroke="#8a2020" stroke-width="1.1"/>
<line x1="1402.5" y1="302.7" x2="1402.5" y2="316.1" stroke="#c82828" stroke-width="1"/>
<line x1="1402.5" y1="319.5" x2="1402.5" y2="337.3" stroke="#c82828" stroke-width="1"/>
<rect x="1398.5" y="316.1" width="8" height="3.4" fill="#ee1010" stroke="#e01010" stroke-width="1.1"/>
<line x1="1414.5" y1="312.8" x2="1414.5" y2="319.9" stroke="#c82828" stroke-width="1"/>
<line x1="1414.5" y1="329.1" x2="1414.5" y2="339.6" stroke="#c82828" stroke-width="1"/>
<rect x="1410.5" y="319.9" width="8" height="9.2" fill="#ee1010" stroke="#e01010" stroke-width="1.1"/>
<line x1="1426.5" y1="317.2" x2="1426.5" y2="324.6" stroke="#1c7b78" stroke-width="1"/>
<line x1="1426.5" y1="329.5" x2="1426.5" y2="331.8" stroke="#1c7b78" stroke-width="1"/>
<rect x="1422.5" y="324.6" width="8" height="4.9" fill="none" stroke="#a83232" stroke-width="1.1"/>
<line x1="1438.5" y1="315.0" x2="1438.5" y2="324.6" stroke="#c82828" stroke-width="1"/>
<line x1="1438.5" y1="339.6" x2="1438.5" y2="340.7" stroke="#c82828" stroke-width="1"/>
<rect x="1434.5" y="324.6" width="8" height="15.0" fill="#ee1010" stroke="#e01010" stroke-width="1.1"/>
<line x1="1450.5" y1="316.1" x2="1450.5" y2="322.4" stroke="#1c7b78" stroke-width="1"/>
<line x1="1450.5" y1="339.6" x2="1450.5" y2="344.0" stroke="#1c7b78" stroke-width="1"/>
<rect x="1446.5" y="322.4" width="8" height="17.2" fill="none" stroke="#a83232" stroke-width="1.1"/>
<line x1="1462.5" y1="309.0" x2="1462.5" y2="322.4" stroke="#b33030" stroke-width="1"/>
<line x1="1462.5" y1="326.2" x2="1462.5" y2="329.1" stroke="#b33030" stroke-width="1"/>
<rect x="1458.5" y="322.4" width="8" height="3.8" fill="#080808" stroke="#8a2020" stroke-width="1.1"/>
<line x1="1474.5" y1="300.7" x2="1474.5" y2="302.3" stroke="#1c7b78" stroke-width="1"/>
<line x1="1474.5" y1="326.6" x2="1474.5" y2="329.7" stroke="#1c7b78" stroke-width="1"/>
<rect x="1470.5" y="302.3" width="8" height="24.3" fill="none" stroke="#111" stroke-width="1.1"/>
<line x1="1486.5" y1="281.5" x2="1486.5" y2="293.3" stroke="#1c7b78" stroke-width="1"/>
<line x1="1486.5" y1="302.3" x2="1486.5" y2="307.2" stroke="#1c7b78" stroke-width="1"/>
<rect x="1482.5" y="293.3" width="8" height="9.0" fill="none" stroke="#111" stroke-width="1.1"/>
<line x1="1498.5" y1="268.3" x2="1498.5" y2="292.8" stroke="#c82828" stroke-width="1"/>
<line x1="1498.5" y1="382.8" x2="1498.5" y2="397.8" stroke="#c82828" stroke-width="1"/>
<rect x="1494.5" y="292.8" width="8" height="90.0" fill="#ee1010" stroke="#e01010" stroke-width="1.1"/>
<line x1="1510.5" y1="345.3" x2="1510.5" y2="347.5" stroke="#1c7b78" stroke-width="1"/>
<line x1="1510.5" y1="383.3" x2="1510.5" y2="384.8" stroke="#1c7b78" stroke-width="1"/>
<rect x="1506.5" y="347.5" width="8" height="35.8" fill="none" stroke="#a83232" stroke-width="1.1"/>
<line x1="1522.5" y1="333.0" x2="1522.5" y2="339.7" stroke="#1c7b78" stroke-width="1"/>
<rect x="1518.5" y="339.7" width="8" height="7.4" fill="none" stroke="#a83232" stroke-width="1.1"/>
<line x1="1534.5" y1="325.2" x2="1534.5" y2="337.0" stroke="#1c7b78" stroke-width="1"/>
<line x1="1534.5" y1="339.0" x2="1534.5" y2="345.3" stroke="#1c7b78" stroke-width="1"/>
<rect x="1530.5" y="337.0" width="8" height="2.0" fill="#ffc0dd" stroke="#c03090" stroke-width="1.1"/>
<line x1="1546.5" y1="328.6" x2="1546.5" y2="337.5" stroke="#c82828" stroke-width="1"/>
<line x1="1546.5" y1="359.8" x2="1546.5" y2="367.6" stroke="#c82828" stroke-width="1"/>
<rect x="1542.5" y="337.5" width="8" height="22.3" fill="#ee1010" stroke="#e01010" stroke-width="1.1"/>
<line x1="1558.5" y1="330.8" x2="1558.5" y2="334.8" stroke="#1c7b78" stroke-width="1"/>
<line x1="1558.5" y1="360.3" x2="1558.5" y2="361.6" stroke="#1c7b78" stroke-width="1"/>
<rect x="1554.5" y="334.8" width="8" height="25.5" fill="none" stroke="#111" stroke-width="1.1"/>
<line x1="1570.5" y1="321.9" x2="1570.5" y2="325.7" stroke="#22705a" stroke-width="1"/>
<line x1="1570.5" y1="335.3" x2="1570.5" y2="337.5" stroke="#22705a" stroke-width="1"/>
<rect x="1566.5" y="325.7" width="8" height="9.6" fill="none" stroke="#42cc4a" stroke-width="1.1"/>
<line x1="1582.5" y1="308.0" x2="1582.5" y2="310.2" stroke="#22705a" stroke-width="1"/>
<line x1="1582.5" y1="325.9" x2="1582.5" y2="340.8" stroke="#22705a" stroke-width="1"/>
<rect x="1578.5" y="310.2" width="8" height="15.7" fill="none" stroke="#42cc4a" stroke-width="1.1"/>
<line x1="1594.5" y1="281.7" x2="1594.5" y2="285.0" stroke="#22705a" stroke-width="1"/>
<line x1="1594.5" y1="310.2" x2="1594.5" y2="321.9" stroke="#22705a" stroke-width="1"/>
<rect x="1590.5" y="285.0" width="8" height="25.2" fill="none" stroke="#42cc4a" stroke-width="1.1"/>
<line x1="1606.5" y1="291.3" x2="1606.5" y2="304.7" stroke="#b33030" stroke-width="1"/>
<rect x="1602.5" y="285.5" width="8" height="5.8" fill="#10f010" stroke="#8a6a2a" stroke-width="1.1"/>
<line x1="1618.5" y1="286.1" x2="1618.5" y2="289.5" stroke="#22705a" stroke-width="1"/>
<line x1="1618.5" y1="291.3" x2="1618.5" y2="295.5" stroke="#22705a" stroke-width="1"/>
<rect x="1614.5" y="289.5" width="8" height="1.8" fill="#b9f3b9" stroke="#42cc4a" stroke-width="1.1"/>
<line x1="1631.5" y1="234.8" x2="1631.5" y2="268.3" stroke="#22705a" stroke-width="1"/>
<line x1="1631.5" y1="289.0" x2="1631.5" y2="295.1" stroke="#22705a" stroke-width="1"/>
<rect x="1627.5" y="268.3" width="8" height="20.7" fill="none" stroke="#42cc4a" stroke-width="1.1"/>
<line x1="1643.5" y1="216.9" x2="1643.5" y2="221.4" stroke="#22705a" stroke-width="1"/>
<rect x="1639.5" y="221.4" width="8" height="46.9" fill="none" stroke="#42cc4a" stroke-width="1.1"/>
<line x1="1655.5" y1="196.4" x2="1655.5" y2="213.5" stroke="#22705a" stroke-width="1"/>
<line x1="1655.5" y1="221.4" x2="1655.5" y2="233.0" stroke="#22705a" stroke-width="1"/>
<rect x="1651.5" y="213.5" width="8" height="7.9" fill="none" stroke="#42cc4a" stroke-width="1.1"/>
<line x1="1667.5" y1="209.7" x2="1667.5" y2="212.4" stroke="#22705a" stroke-width="1"/>
<line x1="1667.5" y1="214.2" x2="1667.5" y2="215.8" stroke="#22705a" stroke-width="1"/>
<rect x="1663.5" y="212.4" width="8" height="1.8" fill="#b9f3b9" stroke="#42cc4a" stroke-width="1.1"/>
</g>
<g>
<circle cx="20.5" cy="671.8" r="6.3" fill="#42ab78"/>
<circle cx="44.2" cy="659.0" r="6.5" fill="#fff21c"/>
<circle cx="44.2" cy="671.3" r="2.4" fill="#8e8e8e"/>
<circle cx="20.5" cy="730.3" r="9.4" fill="#0df20d"/>
<circle cx="44.7" cy="745.9" r="9.4" fill="#0df20d"/>
<circle cx="44.7" cy="733.8" r="2.4" fill="#8e8e8e"/>
<circle cx="116.6" cy="639.4" r="6.7" fill="#fff" stroke="#0df20d" stroke-width="5.4"/>
<circle cx="116.6" cy="651.2" r="2.4" fill="#8e8e8e"/>
<circle cx="152.3" cy="655.0" r="2.4" fill="#8e8e8e"/>
<circle cx="104.3" cy="705.3" r="6.3" fill="#006a08"/>
<circle cx="104.3" cy="722.4" r="6.3" fill="#14e6fa"/>
<circle cx="164.1" cy="695.2" r="6.3" fill="#006a08"/>
<circle cx="176.4" cy="700.3" r="6.5" fill="#fff21c"/>
<circle cx="200.3" cy="737.6" r="6.3" fill="#14e6fa"/>
<circle cx="200.3" cy="723.6" r="9.4" fill="#0df20d"/>
<circle cx="200.3" cy="712.0" r="2.4" fill="#8e8e8e"/>
<circle cx="224.0" cy="724.9" r="6.3" fill="#14e6fa"/>
<circle cx="236.3" cy="704.1" r="6.3" fill="#006a08"/>
<path d="M246.0 676.2h3.8v3.7h3.7v3.8h-3.7v3.7h-3.8v-3.7h-3.7v-3.8h3.7z" fill="#42ab78"/>
<circle cx="260.6" cy="594.7" r="9.4" fill="#0df20d"/>
<circle cx="260.6" cy="586.9" r="6.7" fill="#fff" stroke="#0df20d" stroke-width="5.4"/>
<circle cx="260.6" cy="596.0" r="2.4" fill="#8e8e8e"/>
<circle cx="284.3" cy="596.9" r="9.4" fill="#8e8e8e"/>
<circle cx="296.6" cy="587.3" r="6.7" fill="#fff" stroke="#0df20d" stroke-width="5.4"/>
<circle cx="296.6" cy="634.9" r="2.4" fill="#8e8e8e"/>
<circle cx="320.5" cy="576.2" r="6.3" fill="#0808e0"/>
<circle cx="332.7" cy="572.4" r="6.7" fill="#fff" stroke="#0df20d" stroke-width="5.4"/>
<circle cx="346.2" cy="575.0" r="7.8" fill="#f99b45"/>
<circle cx="345.0" cy="564.6" r="9.4" fill="#0df20d"/>
<circle cx="345.0" cy="576.8" r="2.4" fill="#8e8e8e"/>
<circle cx="345.0" cy="628.7" r="2.4" fill="#8e8e8e"/>
<circle cx="380.4" cy="580.8" r="6.3" fill="#42ab78"/>
<circle cx="380.4" cy="589.3" r="2.4" fill="#8e8e8e"/>
<circle cx="452.6" cy="558.1" r="9.4" fill="#0df20d"/>
<circle cx="452.6" cy="570.3" r="2.4" fill="#8e8e8e"/>
<circle cx="428.7" cy="682.0" r="6.3" fill="#14e6fa"/>
<circle cx="428.7" cy="669.0" r="9.4" fill="#0df20d"/>
<circle cx="452.6" cy="681.3" r="2.4" fill="#8e8e8e"/>
<circle cx="488.5" cy="619.5" r="6.3" fill="#14e6fa"/>
<circle cx="512.4" cy="623.9" r="2.4" fill="#8e8e8e"/>
<path d="M498.4 630.0h3.8v3.7h3.7v3.8h-3.7v3.7h-3.8v-3.7h-3.7v-3.8h3.7z" fill="#e81616"/>
<circle cx="537.4" cy="626.6" r="6.3" fill="#14e6fa"/>
<path d="M535.5 621.0h3.8v3.7h3.7v3.8h-3.7v3.7h-3.8v-3.7h-3.7v-3.8h3.7z" fill="#e81616"/>
<circle cx="525.4" cy="663.0" r="6.3" fill="#006a08"/>
<circle cx="500.3" cy="701.0" r="2.4" fill="#8e8e8e"/>
<circle cx="537.4" cy="714.8" r="9.2" fill="#f99b45"/>
<circle cx="537.4" cy="711.0" r="2.4" fill="#8e8e8e"/>
<circle cx="512.4" cy="724.4" r="6.3" fill="#14e6fa"/>
<circle cx="561.8" cy="653.0" r="6.5" fill="#fff21c"/>
<circle cx="597.5" cy="643.4" r="2.4" fill="#8e8e8e"/>
<circle cx="597.5" cy="695.0" r="6.3" fill="#006a08"/>
<circle cx="585.4" cy="703.9" r="2.4" fill="#8e8e8e"/>
<circle cx="585.4" cy="712.8" r="6.3" fill="#0808e0"/>
<circle cx="633.4" cy="684.9" r="2.4" fill="#8e8e8e"/>
<circle cx="633.4" cy="712.1" r="6.3" fill="#14e6fa"/>
<path d="M667.7 617.9h3.8v3.7h3.7v3.8h-3.7v3.7h-3.8v-3.7h-3.7v-3.8h3.7z" fill="#42ab78"/>
<circle cx="693.5" cy="623.5" r="6.5" fill="#fff21c"/>
<circle cx="693.5" cy="537.3" r="4.5" fill="#8e8e8e"/>
<circle cx="717.5" cy="523.3" r="9.4" fill="#0df20d"/>
<circle cx="717.5" cy="529.5" r="9.4" fill="#8e8e8e"/>
<circle cx="753.0" cy="491.1" r="9.4" fill="#0df20d"/>
<circle cx="765.8" cy="492.0" r="6.3" fill="#0808e0"/>
<circle cx="778.5" cy="483.0" r="9.2" fill="#f99b45"/>
<circle cx="777.4" cy="477.0" r="6.3" fill="#ff1ee6"/>
<circle cx="777.8" cy="487.8" r="6.9" fill="#fff" stroke="#ee1212" stroke-width="5"/>
<circle cx="777.4" cy="536.9" r="2.4" fill="#8e8e8e"/>
<circle cx="801.7" cy="435.7" r="2.4" fill="#8e8e8e"/>
<circle cx="813.3" cy="431.3" r="6.3" fill="#0808e0"/>
<circle cx="837.4" cy="435.1" r="6.3" fill="#42ab78"/>
<path d="M799.8 513.4h3.8v3.7h3.7v3.8h-3.7v3.7h-3.8v-3.7h-3.7v-3.8h3.7z" fill="#42ab78"/>
<circle cx="873.8" cy="515.0" r="2.4" fill="#8e8e8e"/>
<circle cx="897.5" cy="454.0" r="2.4" fill="#8e8e8e"/>
<circle cx="957.6" cy="498.9" r="2.4" fill="#8e8e8e"/>
<circle cx="993.3" cy="482.6" r="2.4" fill="#8e8e8e"/>
<circle cx="1005.4" cy="470.3" r="6.5" fill="#fff21c"/>
<path d="M1015.3 490.0h3.8v3.7h3.7v3.8h-3.7v3.7h-3.8v-3.7h-3.7v-3.8h3.7z" fill="#e81616"/>
<circle cx="993.3" cy="541.1" r="6.3" fill="#006a08"/>
<circle cx="993.3" cy="560.3" r="6.3" fill="#14e6fa"/>
<circle cx="945.3" cy="567.0" r="2.4" fill="#8e8e8e"/>
<circle cx="957.6" cy="566.4" r="6.3" fill="#14e6fa"/>
<circle cx="945.3" cy="579.8" r="9.4" fill="#0df20d"/>
<circle cx="1017.2" cy="559.7" r="2.4" fill="#8e8e8e"/>
<circle cx="1029.5" cy="554.1" r="6.3" fill="#006a08"/>
<circle cx="1029.5" cy="573.1" r="6.3" fill="#14e6fa"/>
<circle cx="1066.2" cy="540.1" r="2.4" fill="#8e8e8e"/>
<circle cx="1090.1" cy="543.0" r="6.3" fill="#006a08"/>
<circle cx="1090.1" cy="562.0" r="6.3" fill="#14e6fa"/>
<circle cx="1126.3" cy="495.0" r="6.5" fill="#fff21c"/>
<circle cx="1150.2" cy="508.0" r="2.4" fill="#8e8e8e"/>
<circle cx="1114.2" cy="447.0" r="2.4" fill="#8e8e8e"/>
<circle cx="1126.3" cy="434.3" r="4.5" fill="#8e8e8e"/>
<circle cx="1138.4" cy="448.1" r="9.4" fill="#8e8e8e"/>
<circle cx="1138.4" cy="448.1" r="4.0" fill="#a83434"/>
<circle cx="1162.3" cy="408.4" r="4.5" fill="#8e8e8e"/>
<circle cx="1282.4" cy="448.1" r="2.4" fill="#8e8e8e"/>
<circle cx="1294.5" cy="471.6" r="6.3" fill="#14e6fa"/>
<path d="M1304.6 415.3h3.8v3.7h3.7v3.8h-3.7v3.7h-3.8v-3.7h-3.7v-3.8h3.7z" fill="#42ab78"/>
<circle cx="1198.3" cy="363.0" r="9.4" fill="#8e8e8e"/>
<circle cx="1198.3" cy="372.3" r="4.9" fill="#ffffff"/>
<circle cx="1222.5" cy="353.4" r="6.7" fill="#fff" stroke="#0df20d" stroke-width="5.4"/>
<circle cx="1270.5" cy="292.2" r="6.7" fill="#fff" stroke="#0df20d" stroke-width="5.4"/>
<circle cx="1270.5" cy="306.5" r="2.4" fill="#8e8e8e"/>
<circle cx="1282.5" cy="315.0" r="6.3" fill="#0808e0"/>
<circle cx="1378.5" cy="268.1" r="2.4" fill="#8e8e8e"/>
<circle cx="1366.7" cy="351.2" r="2.4" fill="#8e8e8e"/>
<circle cx="1414.7" cy="347.8" r="2.4" fill="#8e8e8e"/>
<circle cx="1414.7" cy="294.2" r="6.3" fill="#42ab78"/>
<circle cx="1426.8" cy="297.1" r="6.3" fill="#0808e0"/>
<circle cx="1450.7" cy="351.0" r="9.4" fill="#ee1212"/>
<circle cx="1450.7" cy="357.3" r="9.2" fill="#f99b45"/>
<circle cx="1450.7" cy="352.5" r="2.4" fill="#8e8e8e"/>
<circle cx="1498.5" cy="254.0" r="6.3" fill="#42ab78"/>
<circle cx="1498.5" cy="258.2" r="9.2" fill="#f99b45"/>
<circle cx="1498.5" cy="264.9" r="9.4" fill="#ee1212"/>
<circle cx="1498.5" cy="265.3" r="2.4" fill="#8e8e8e"/>
<path d="M1532.1 298.4h3.8v3.7h3.7v3.8h-3.7v3.7h-3.8v-3.7h-3.7v-3.8h3.7z" fill="#e81616"/>
<circle cx="1534.0" cy="318.0" r="2.4" fill="#8e8e8e"/>
<circle cx="1547.0" cy="375.9" r="2.4" fill="#8e8e8e"/>
<circle cx="1522.4" cy="388.8" r="6.3" fill="#14e6fa"/>
<circle cx="1559.5" cy="403.0" r="6.3" fill="#14e6fa"/>
<circle cx="1571.3" cy="357.1" r="6.3" fill="#006a08"/>
<circle cx="1595.0" cy="274.3" r="2.4" fill="#8e8e8e"/>
<circle cx="1643.2" cy="194.1" r="4.5" fill="#8e8e8e"/>
<circle cx="1667.1" cy="194.1" r="9.4" fill="#8e8e8e"/>
<circle cx="1498.5" cy="406.0" r="2.4" fill="#8e8e8e"/>
</g>
</g>
<g font-family="'Liberation Sans', sans-serif" font-size="17.5" fill="#222326">
<text x="1841.4" y="49.0" textLength="77.8" lengthAdjust="spacingAndGlyphs">4.040,000</text>
<text x="1841.4" y="113.0" textLength="77.8" lengthAdjust="spacingAndGlyphs">4.000,000</text>
<text x="1841.4" y="177.0" textLength="77.8" lengthAdjust="spacingAndGlyphs">3.960,000</text>
<text x="1841.4" y="305.0" textLength="77.8" lengthAdjust="spacingAndGlyphs">3.880,000</text>
<text x="1841.4" y="369.0" textLength="77.8" lengthAdjust="spacingAndGlyphs">3.840,000</text>
<text x="1841.4" y="433.0" textLength="77.8" lengthAdjust="spacingAndGlyphs">3.800,000</text>
<text x="1841.4" y="497.0" textLength="77.8" lengthAdjust="spacingAndGlyphs">3.760,000</text>
<text x="1841.4" y="561.0" textLength="77.8" lengthAdjust="spacingAndGlyphs">3.720,000</text>
<text x="1841.4" y="625.0" textLength="77.8" lengthAdjust="spacingAndGlyphs">3.680,000</text>
<text x="1841.4" y="689.0" textLength="77.8" lengthAdjust="spacingAndGlyphs">3.640,000</text>
<text x="1841.4" y="753.0" textLength="77.8" lengthAdjust="spacingAndGlyphs">3.600,000</text>
<text x="1841.4" y="817.0" textLength="77.8" lengthAdjust="spacingAndGlyphs">3.560,000</text>
<text x="1841.4" y="881.0" textLength="77.8" lengthAdjust="spacingAndGlyphs">3.520,000</text>
<text x="1841.4" y="945.0" textLength="77.8" lengthAdjust="spacingAndGlyphs">3.480,000</text>
</g>
<rect x="1828" y="199" width="99" height="48" rx="3" fill="#00f700"/>
<g font-family="'Liberation Sans', sans-serif" font-size="17.5" fill="#0a6a10">
<text x="1842" y="217" textLength="77.5" lengthAdjust="spacingAndGlyphs">3.935,210</text>
<text x="1842" y="237.2" textLength="68" lengthAdjust="spacingAndGlyphs">02:46:29</text>
</g>
<g font-family="'Liberation Sans', sans-serif" font-size="17.5" fill="#222326" text-anchor="middle">
<text x="92.0" y="994.8">12</text>
<text x="188.2" y="994.8">15</text>
<text x="284.3" y="994.8">16</text>
<text x="380.5" y="994.8">17</text>
<text x="476.6" y="994.8">18</text>
<text x="572.8" y="994.8">19</text>
<text x="668.9" y="994.8">22</text>
<text x="765.1" y="994.8">23</text>
<text x="861.2" y="994.8">24</text>
<text x="957.4" y="994.8">25</text>
<text x="1053.5" y="994.8">26</text>
<text x="1149.7" y="994.8">29</text>
<text x="1245.8" y="994.8">30</text>
<text x="1342.0" y="994.8" font-weight="bold">Okt</text>
<text x="1438.1" y="994.8">2</text>
<text x="1534.2" y="994.8">3</text>
<text x="1630.4" y="994.8">6</text>
<text x="1726.6" y="994.8">7</text>
<text x="1822.7" y="994.8">8</text>
</g>
<g font-family="'Liberation Sans', sans-serif" font-size="18" fill="#222326">
<text x="27.5" y="27.6" textLength="262.5" lengthAdjust="spacingAndGlyphs">GOLD CFDs (US$ / OZ) · 3h · TVC</text>
<text x="299.5" y="27.6" fill="#22a08c" textLength="78" lengthAdjust="spacingAndGlyphs">3.935,210</text>
<text x="387.7" y="27.6" fill="#22a08c" textLength="138.3" lengthAdjust="spacingAndGlyphs">+49,580 (+1,28%)</text>
<text x="27.5" y="53.5">Vol</text>
<text x="27.5" y="80.2" textLength="721" lengthAdjust="spacingAndGlyphs">Croc 3.0 Chart - Professional (No Signal, No Signal, No Signal, No Signal, No Signal, on, off)</text>
</g>
<g>
<circle cx="1667.4" cy="947" r="16.3" fill="#fff"/>
<circle cx="1667.4" cy="947" r="14.2" fill="none" stroke="#7a1fa0" stroke-width="2.3"/>
<circle cx="1677.9" cy="936.6" r="6" fill="#fff"/>
<circle cx="1677.9" cy="936.6" r="3.9" fill="#e8283c"/>
<path d="M1671.3 939.8L1661.4 947.5H1667.3L1663.2 954.7L1673.4 946.7H1667.5Z" fill="#8422b0"/>
</g>
</svg>
</body></html>
